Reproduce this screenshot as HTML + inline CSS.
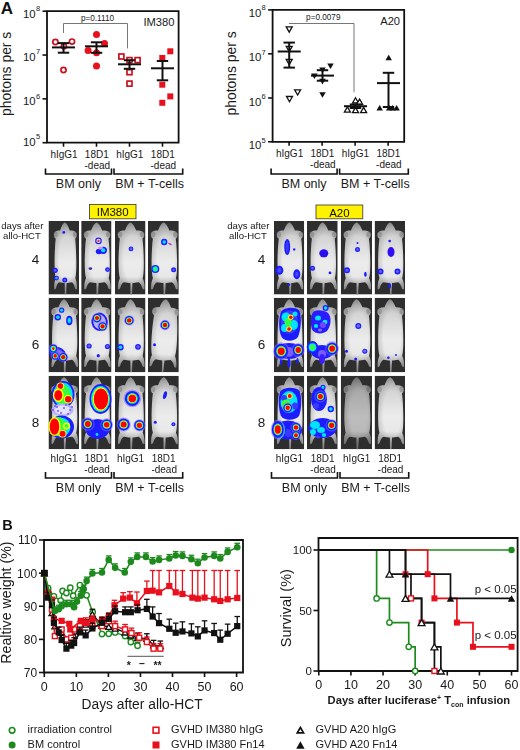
<!DOCTYPE html>
<html><head><meta charset="utf-8"><style>
html,body{margin:0;padding:0;background:#fff;overflow:hidden;width:520px;height:750px;}
svg{display:block;font-family:"Liberation Sans", sans-serif;}
</style></head><body>
<svg width="520" height="750" viewBox="0 0 520 750">
<text x="0.8" y="13.6" font-size="17" text-anchor="start" font-weight="bold" fill="#111" >A</text>
<path d="M47,142.7 L47,11.2 L178.6,11.2 L178.6,142.7 Z" fill="none" stroke="#111" stroke-width="1.8"/>
<line x1="42.5" y1="11.2" x2="47" y2="11.2" stroke="#111" stroke-width="1.6"/>
<text x="35.7" y="17.8" font-size="11.4" text-anchor="end" fill="#1a1a1a">10</text>
<text x="36" y="11.3" font-size="7.5" fill="#1a1a1a">8</text>
<line x1="42.5" y1="55.03" x2="47" y2="55.03" stroke="#111" stroke-width="1.6"/>
<text x="35.7" y="60.599999999999994" font-size="11.4" text-anchor="end" fill="#1a1a1a">10</text>
<text x="36" y="54.099999999999994" font-size="7.5" fill="#1a1a1a">7</text>
<line x1="42.5" y1="98.87" x2="47" y2="98.87" stroke="#111" stroke-width="1.6"/>
<text x="35.7" y="105.2" font-size="11.4" text-anchor="end" fill="#1a1a1a">10</text>
<text x="36" y="98.7" font-size="7.5" fill="#1a1a1a">6</text>
<line x1="42.5" y1="142.7" x2="47" y2="142.7" stroke="#111" stroke-width="1.6"/>
<text x="35.7" y="145.5" font-size="11.4" text-anchor="end" fill="#1a1a1a">10</text>
<text x="36" y="139.0" font-size="7.5" fill="#1a1a1a">5</text>
<line x1="63.5" y1="142.7" x2="63.5" y2="146.7" stroke="#111" stroke-width="1.6"/>
<line x1="96.5" y1="142.7" x2="96.5" y2="146.7" stroke="#111" stroke-width="1.6"/>
<line x1="129.5" y1="142.7" x2="129.5" y2="146.7" stroke="#111" stroke-width="1.6"/>
<line x1="162.5" y1="142.7" x2="162.5" y2="146.7" stroke="#111" stroke-width="1.6"/>
<text x="64" y="158.3" font-size="10" text-anchor="middle" font-weight="normal" fill="#1a1a1a" >hIgG1</text>
<text x="96.8" y="158.3" font-size="10" text-anchor="middle" font-weight="normal" fill="#1a1a1a" >18D1</text>
<text x="97.3" y="169.3" font-size="10" text-anchor="middle" font-weight="normal" fill="#1a1a1a" >-dead</text>
<text x="129.8" y="158.3" font-size="10" text-anchor="middle" font-weight="normal" fill="#1a1a1a" >hIgG1</text>
<text x="162.8" y="158.3" font-size="10" text-anchor="middle" font-weight="normal" fill="#1a1a1a" >18D1</text>
<text x="163.3" y="169.3" font-size="10" text-anchor="middle" font-weight="normal" fill="#1a1a1a" >-dead</text>
<polyline points="45.50,168.50 45.50,174.00 111.50,174.00 111.50,168.50" fill="none" stroke="#111" stroke-width="1.6"/>
<polyline points="114.00,168.50 114.00,174.00 182.70,174.00 182.70,168.50" fill="none" stroke="#111" stroke-width="1.6"/>
<text x="78.4" y="187.6" font-size="12.5" text-anchor="middle" font-weight="normal" fill="#1a1a1a" >BM only</text>
<text x="149.6" y="188" font-size="12.5" text-anchor="middle" font-weight="normal" fill="#1a1a1a" >BM + T-cells</text>
<text transform="translate(11.0,73.8) rotate(-90)" font-size="13.9" text-anchor="middle" fill="#1a1a1a">photons per s</text>
<text x="174.5" y="25.5" font-size="11.2" text-anchor="end" font-weight="normal" fill="#1a1a1a" >IM380</text>
<g fill="none" stroke="#777" stroke-width="1"><polyline points="63.5,33 63.5,23.5 127.5,23.5 127.5,48.4"/></g><text x="97.5" y="20.8" font-size="8.2" text-anchor="middle" fill="#1a1a1a">p=0.1110</text>
<circle cx="55.4" cy="42" r="2.6" fill="white" stroke="#c8121f" stroke-width="1.7"/>
<circle cx="72" cy="41.6" r="2.6" fill="white" stroke="#c8121f" stroke-width="1.7"/>
<circle cx="63.9" cy="46.3" r="2.6" fill="white" stroke="#c8121f" stroke-width="1.7"/>
<circle cx="63.5" cy="70" r="2.6" fill="white" stroke="#c8121f" stroke-width="1.7"/>
<g stroke="#111" stroke-width="2"><line x1="52.0" y1="47.4" x2="75.0" y2="47.4"/><line x1="63.5" y1="43.1" x2="63.5" y2="52.7"/><line x1="57.8" y1="43.1" x2="69.2" y2="43.1"/><line x1="57.8" y1="52.7" x2="69.2" y2="52.7"/></g>
<circle cx="96.5" cy="34.6" r="3.5" fill="#e8101c"/>
<circle cx="104.5" cy="43.6" r="3.5" fill="#e8101c"/>
<circle cx="88.1" cy="50.4" r="3.5" fill="#e8101c"/>
<circle cx="96.5" cy="52.8" r="3.5" fill="#e8101c"/>
<circle cx="96.5" cy="65.9" r="3.5" fill="#e8101c"/>
<g stroke="#111" stroke-width="2"><line x1="85.0" y1="46.3" x2="108.0" y2="46.3"/><line x1="96.5" y1="42.3" x2="96.5" y2="52.8"/><line x1="90.8" y1="42.3" x2="102.2" y2="42.3"/><line x1="90.8" y1="52.8" x2="102.2" y2="52.8"/></g>
<rect x="118.9" y="54.0" width="5" height="5" fill="white" stroke="#c8121f" stroke-width="1.7"/>
<rect x="127.0" y="57.6" width="5" height="5" fill="white" stroke="#c8121f" stroke-width="1.7"/>
<rect x="135.1" y="57.6" width="5" height="5" fill="white" stroke="#c8121f" stroke-width="1.7"/>
<rect x="127.0" y="69.7" width="5" height="5" fill="white" stroke="#c8121f" stroke-width="1.7"/>
<rect x="127.0" y="81.1" width="5" height="5" fill="white" stroke="#c8121f" stroke-width="1.7"/>
<g stroke="#111" stroke-width="2"><line x1="118.0" y1="64.3" x2="141.0" y2="64.3"/><line x1="129.5" y1="60.2" x2="129.5" y2="68.8"/><line x1="123.8" y1="60.2" x2="135.2" y2="60.2"/><line x1="123.8" y1="68.8" x2="135.2" y2="68.8"/></g>
<rect x="167.3" y="48.3" width="6" height="6" fill="#e8101c"/>
<rect x="159.3" y="55" width="6" height="6" fill="#e8101c"/>
<rect x="159.3" y="81.7" width="6" height="6" fill="#e8101c"/>
<rect x="167.3" y="93.4" width="6" height="6" fill="#e8101c"/>
<rect x="159.3" y="99.8" width="6" height="6" fill="#e8101c"/>
<g stroke="#111" stroke-width="2"><line x1="151.0" y1="68.3" x2="174.0" y2="68.3"/><line x1="162.5" y1="61" x2="162.5" y2="80.3"/><line x1="156.8" y1="61" x2="168.2" y2="61"/><line x1="156.8" y1="80.3" x2="168.2" y2="80.3"/></g>
<path d="M272.6,141.8 L272.6,9.9 L404.2,9.9 L404.2,141.8 Z" fill="none" stroke="#111" stroke-width="1.8"/>
<line x1="268.1" y1="9.9" x2="272.6" y2="9.9" stroke="#111" stroke-width="1.6"/>
<text x="261.3" y="16.6" font-size="11.4" text-anchor="end" fill="#1a1a1a">10</text>
<text x="261.6" y="10.100000000000001" font-size="7.5" fill="#1a1a1a">8</text>
<line x1="268.1" y1="53.8" x2="272.6" y2="53.8" stroke="#111" stroke-width="1.6"/>
<text x="261.3" y="61.0" font-size="11.4" text-anchor="end" fill="#1a1a1a">10</text>
<text x="261.6" y="54.5" font-size="7.5" fill="#1a1a1a">7</text>
<line x1="268.1" y1="98" x2="272.6" y2="98" stroke="#111" stroke-width="1.6"/>
<text x="261.3" y="105.6" font-size="11.4" text-anchor="end" fill="#1a1a1a">10</text>
<text x="261.6" y="99.1" font-size="7.5" fill="#1a1a1a">6</text>
<line x1="268.1" y1="141.8" x2="272.6" y2="141.8" stroke="#111" stroke-width="1.6"/>
<text x="261.3" y="149.0" font-size="11.4" text-anchor="end" fill="#1a1a1a">10</text>
<text x="261.6" y="142.5" font-size="7.5" fill="#1a1a1a">5</text>
<line x1="289.1" y1="141.8" x2="289.1" y2="145.8" stroke="#111" stroke-width="1.6"/>
<line x1="322.1" y1="141.8" x2="322.1" y2="145.8" stroke="#111" stroke-width="1.6"/>
<line x1="355.1" y1="141.8" x2="355.1" y2="145.8" stroke="#111" stroke-width="1.6"/>
<line x1="388.1" y1="141.8" x2="388.1" y2="145.8" stroke="#111" stroke-width="1.6"/>
<text x="289.6" y="156.7" font-size="10" text-anchor="middle" font-weight="normal" fill="#1a1a1a" >hIgG1</text>
<text x="322.4" y="156.7" font-size="10" text-anchor="middle" font-weight="normal" fill="#1a1a1a" >18D1</text>
<text x="322.9" y="167.7" font-size="10" text-anchor="middle" font-weight="normal" fill="#1a1a1a" >-dead</text>
<text x="355.4" y="156.7" font-size="10" text-anchor="middle" font-weight="normal" fill="#1a1a1a" >hIgG1</text>
<text x="388.4" y="156.7" font-size="10" text-anchor="middle" font-weight="normal" fill="#1a1a1a" >18D1</text>
<text x="388.9" y="167.7" font-size="10" text-anchor="middle" font-weight="normal" fill="#1a1a1a" >-dead</text>
<polyline points="271.10,168.50 271.10,174.00 337.10,174.00 337.10,168.50" fill="none" stroke="#111" stroke-width="1.6"/>
<polyline points="339.60,168.50 339.60,174.00 408.30,174.00 408.30,168.50" fill="none" stroke="#111" stroke-width="1.6"/>
<text x="304.0" y="187.6" font-size="12.5" text-anchor="middle" font-weight="normal" fill="#1a1a1a" >BM only</text>
<text x="375.2" y="188" font-size="12.5" text-anchor="middle" font-weight="normal" fill="#1a1a1a" >BM + T-cells</text>
<text transform="translate(236.2,73.4) rotate(-90)" font-size="13.9" text-anchor="middle" fill="#1a1a1a">photons per s</text>
<text x="400.1" y="24.7" font-size="11.2" text-anchor="end" font-weight="normal" fill="#1a1a1a" >A20</text>
<g fill="none" stroke="#777" stroke-width="1"><polyline points="289,23.5 354,23.5 354,92.3"/></g><text x="323.3" y="20.2" font-size="8.2" text-anchor="middle" fill="#1a1a1a">p=0.0079</text>
<polygon points="286.20,26.90 292.20,26.90 289.20,32.10" fill="white" stroke="#111" stroke-width="1.3" stroke-linejoin="miter"/>
<polygon points="286.20,46.40 292.20,46.40 289.20,51.60" fill="white" stroke="#111" stroke-width="1.3" stroke-linejoin="miter"/>
<polygon points="286.20,59.40 292.20,59.40 289.20,64.60" fill="white" stroke="#111" stroke-width="1.3" stroke-linejoin="miter"/>
<polygon points="294.60,89.80 300.60,89.80 297.60,95.00" fill="white" stroke="#111" stroke-width="1.3" stroke-linejoin="miter"/>
<polygon points="286.50,96.50 292.50,96.50 289.50,101.70" fill="white" stroke="#111" stroke-width="1.3" stroke-linejoin="miter"/>
<g stroke="#111" stroke-width="2"><line x1="277.7" y1="51.5" x2="300.7" y2="51.5"/><line x1="289.2" y1="42.6" x2="289.2" y2="67.6"/><line x1="283.5" y1="42.6" x2="294.9" y2="42.6"/><line x1="283.5" y1="67.6" x2="294.9" y2="67.6"/></g>
<polygon points="327.26,63.39 333.74,63.39 330.50,69.01" fill="#111"/>
<polygon points="319.26,67.39 325.74,67.39 322.50,73.01" fill="#111"/>
<polygon points="311.16,73.39 317.64,73.39 314.40,79.01" fill="#111"/>
<polygon points="319.26,78.79 325.74,78.79 322.50,84.41" fill="#111"/>
<polygon points="319.26,92.19 325.74,92.19 322.50,97.81" fill="#111"/>
<g stroke="#111" stroke-width="2"><line x1="311.0" y1="75.6" x2="334.0" y2="75.6"/><line x1="322.5" y1="70.2" x2="322.5" y2="80.7"/><line x1="316.8" y1="70.2" x2="328.2" y2="70.2"/><line x1="316.8" y1="80.7" x2="328.2" y2="80.7"/></g>
<polygon points="352.50,103.00 358.50,103.00 355.50,97.80" fill="white" stroke="#111" stroke-width="1.3" stroke-linejoin="miter"/>
<polygon points="356.60,104.30 362.60,104.30 359.60,99.10" fill="white" stroke="#111" stroke-width="1.3" stroke-linejoin="miter"/>
<polygon points="344.40,112.10 350.40,112.10 347.40,106.90" fill="white" stroke="#111" stroke-width="1.3" stroke-linejoin="miter"/>
<polygon points="352.50,112.60 358.50,112.60 355.50,107.40" fill="white" stroke="#111" stroke-width="1.3" stroke-linejoin="miter"/>
<polygon points="360.60,112.60 366.60,112.60 363.60,107.40" fill="white" stroke="#111" stroke-width="1.3" stroke-linejoin="miter"/>
<g stroke="#111" stroke-width="2"><line x1="344.0" y1="106.2" x2="367.0" y2="106.2"/><line x1="355.5" y1="104.5" x2="355.5" y2="108"/><line x1="349.8" y1="104.5" x2="361.2" y2="104.5"/><line x1="349.8" y1="108" x2="361.2" y2="108"/></g>
<polygon points="385.46,60.31 391.94,60.31 388.70,54.69" fill="#111"/>
<polygon points="376.46,110.61 382.94,110.61 379.70,104.99" fill="#111"/>
<polygon points="385.96,110.61 392.44,110.61 389.20,104.99" fill="#111"/>
<polygon points="389.26,110.61 395.74,110.61 392.50,104.99" fill="#111"/>
<polygon points="393.36,110.61 399.84,110.61 396.60,104.99" fill="#111"/>
<g stroke="#111" stroke-width="2"><line x1="377.0" y1="83.1" x2="400.0" y2="83.1"/><line x1="388.5" y1="72.8" x2="388.5" y2="107"/><line x1="382.8" y1="72.8" x2="394.2" y2="72.8"/><line x1="382.8" y1="107" x2="394.2" y2="107"/></g>
<defs><filter id="soft" x="-5%" y="-5%" width="110%" height="110%"><feGaussianBlur stdDeviation="0.55"/></filter><linearGradient id="mg" x1="0" y1="0" x2="0" y2="1"><stop offset="0" stop-color="#9a9a9a"/><stop offset="0.08" stop-color="#b8b8b8"/><stop offset="0.2" stop-color="#d4d4d4"/><stop offset="0.55" stop-color="#ececec"/><stop offset="0.75" stop-color="#e8e8e8"/><stop offset="0.82" stop-color="#c8c8c8"/><stop offset="0.9" stop-color="#a0a0a0"/><stop offset="1" stop-color="#909090"/></linearGradient><radialGradient id="edge" cx="55%" cy="50%" r="50%"><stop offset="0.65" stop-color="#000" stop-opacity="0"/><stop offset="1" stop-color="#000" stop-opacity="0.12"/></radialGradient><g id="mb"><path d="M16,1.5 C17.6,1.8 19.8,4.8 21.6,9.5 C25,9.5 28.5,10 29.3,13 C29.8,15.5 28.8,17 27.8,17.5 C28.6,24 29,32 29.1,40 C29.2,48 29,54 28,57.5 C29.3,60 30,64 29.8,68.5 C28.8,69 27.8,68.5 27.2,66 C26.5,64 25.5,62.5 24,61.5 C21.5,62 19.5,62.3 18,62.3 L17.5,74 L16,74 L15.9,62.3 C14,62.3 12,62 9.5,61.5 C8,62.5 7,64 6.3,66 C5.7,68.5 4.7,69 3.8,68.5 C3.7,64 4.3,60 5.6,57.5 C4.6,54 4.3,48 4.3,40 C4.4,32 4.8,24 5.6,17.5 C4.4,17 3.4,15.5 3.8,13 C4.6,10 8,9.5 10.6,9.5 C12.3,4.8 14.4,1.8 16,1.5 Z" fill="url(#mg)"/><path d="M16,1.5 C17.6,1.8 19.8,4.8 21.6,9.5 C25,9.5 28.5,10 29.3,13 C29.8,15.5 28.8,17 27.8,17.5 C28.6,24 29,32 29.1,40 C29.2,48 29,54 28,57.5 C29.3,60 30,64 29.8,68.5 C28.8,69 27.8,68.5 27.2,66 C26.5,64 25.5,62.5 24,61.5 C21.5,62 19.5,62.3 18,62.3 L17.5,74 L16,74 L15.9,62.3 C14,62.3 12,62 9.5,61.5 C8,62.5 7,64 6.3,66 C5.7,68.5 4.7,69 3.8,68.5 C3.7,64 4.3,60 5.6,57.5 C4.6,54 4.3,48 4.3,40 C4.4,32 4.8,24 5.6,17.5 C4.4,17 3.4,15.5 3.8,13 C4.6,10 8,9.5 10.6,9.5 C12.3,4.8 14.4,1.8 16,1.5 Z" fill="url(#edge)"/><ellipse cx="5.6" cy="13.6" rx="2.3" ry="3" fill="#7a7a7a" fill-opacity="0.55"/><ellipse cx="27.6" cy="13.6" rx="2.3" ry="3" fill="#7a7a7a" fill-opacity="0.55"/></g></defs>
<g filter="url(#soft)">
<svg x="48.5" y="221" width="30.5" height="73.6" viewBox="0 0 30 74" preserveAspectRatio="none"><rect width="30" height="74" fill="#2f2f2f"/><use href="#mb" transform="translate(-0.8,0) translate(16,0) scale(0.86,1) translate(-15,0)"/></svg>
<svg x="81.2" y="221" width="30.3" height="73.6" viewBox="0 0 30 74" preserveAspectRatio="none"><rect width="30" height="74" fill="#2f2f2f"/><use href="#mb" transform="translate(-0.8,0) "/></svg>
<svg x="115" y="221" width="30.5" height="73.6" viewBox="0 0 30 74" preserveAspectRatio="none"><rect width="30" height="74" fill="#2f2f2f"/><use href="#mb" transform="translate(-0.8,0) "/></svg>
<svg x="148" y="221" width="30.8" height="73.6" viewBox="0 0 30 74" preserveAspectRatio="none"><rect width="30" height="74" fill="#2f2f2f"/><use href="#mb" transform="translate(-0.8,0) "/></svg>
<svg x="48.5" y="297.8" width="30.5" height="74.5" viewBox="0 0 30 74" preserveAspectRatio="none"><rect width="30" height="74" fill="#2f2f2f"/><use href="#mb" transform="translate(-0.8,0) "/></svg>
<svg x="81.2" y="297.8" width="30.3" height="74.5" viewBox="0 0 30 74" preserveAspectRatio="none"><rect width="30" height="74" fill="#2f2f2f"/><use href="#mb" transform="translate(-0.8,0) "/></svg>
<svg x="115" y="297.8" width="30.5" height="74.5" viewBox="0 0 30 74" preserveAspectRatio="none"><rect width="30" height="74" fill="#2f2f2f"/><use href="#mb" transform="translate(-0.8,0) "/></svg>
<svg x="148" y="297.8" width="30.8" height="74.5" viewBox="0 0 30 74" preserveAspectRatio="none"><rect width="30" height="74" fill="#2f2f2f"/><use href="#mb" transform="translate(-0.8,0) rotate(3 16 40)"/></svg>
<svg x="48.5" y="375.8" width="30.5" height="73.4" viewBox="0 0 30 74" preserveAspectRatio="none"><rect width="30" height="74" fill="#2f2f2f"/><use href="#mb" transform="translate(-0.8,0) "/></svg>
<svg x="81.2" y="375.8" width="30.3" height="73.4" viewBox="0 0 30 74" preserveAspectRatio="none"><rect width="30" height="74" fill="#2f2f2f"/><use href="#mb" transform="translate(-0.8,0) "/></svg>
<svg x="115" y="375.8" width="30.5" height="73.4" viewBox="0 0 30 74" preserveAspectRatio="none"><rect width="30" height="74" fill="#2f2f2f"/><use href="#mb" transform="translate(-0.8,0) "/></svg>
<svg x="148" y="375.8" width="30.8" height="73.4" viewBox="0 0 30 74" preserveAspectRatio="none"><rect width="30" height="74" fill="#2f2f2f"/><use href="#mb" transform="translate(-0.8,0) "/><path d="M16,1.5 C17.6,1.8 19.8,4.8 21.6,9.5 C25,9.5 28.5,10 29.3,13 C29.8,15.5 28.8,17 27.8,17.5 C28.6,24 29,32 29.1,40 C29.2,48 29,54 28,57.5 C29.3,60 30,64 29.8,68.5 C28.8,69 27.8,68.5 27.2,66 C26.5,64 25.5,62.5 24,61.5 C21.5,62 19.5,62.3 18,62.3 L17.5,74 L16,74 L15.9,62.3 C14,62.3 12,62 9.5,61.5 C8,62.5 7,64 6.3,66 C5.7,68.5 4.7,69 3.8,68.5 C3.7,64 4.3,60 5.6,57.5 C4.6,54 4.3,48 4.3,40 C4.4,32 4.8,24 5.6,17.5 C4.4,17 3.4,15.5 3.8,13 C4.6,10 8,9.5 10.6,9.5 C12.3,4.8 14.4,1.8 16,1.5 Z" fill="#fff" fill-opacity="0.04" transform="translate(-0.8,0) "/></svg>
<svg x="274" y="221" width="30.2" height="73.6" viewBox="0 0 30 74" preserveAspectRatio="none"><rect width="30" height="74" fill="#2f2f2f"/><use href="#mb" transform="translate(-0.8,0) "/></svg>
<svg x="307" y="221" width="30.7" height="73.6" viewBox="0 0 30 74" preserveAspectRatio="none"><rect width="30" height="74" fill="#2f2f2f"/><use href="#mb" transform="translate(-0.8,0) "/></svg>
<svg x="340.8" y="221" width="31.2" height="73.6" viewBox="0 0 30 74" preserveAspectRatio="none"><rect width="30" height="74" fill="#2f2f2f"/><use href="#mb" transform="translate(-0.8,0) "/></svg>
<svg x="374.6" y="221" width="30.4" height="73.6" viewBox="0 0 30 74" preserveAspectRatio="none"><rect width="30" height="74" fill="#2f2f2f"/><use href="#mb" transform="translate(-0.8,0) "/></svg>
<svg x="274" y="297.8" width="30.2" height="74.5" viewBox="0 0 30 74" preserveAspectRatio="none"><rect width="30" height="74" fill="#2f2f2f"/><use href="#mb" transform="translate(-0.8,0) "/></svg>
<svg x="307" y="297.8" width="30.7" height="74.5" viewBox="0 0 30 74" preserveAspectRatio="none"><rect width="30" height="74" fill="#2f2f2f"/><use href="#mb" transform="translate(-0.8,0) "/></svg>
<svg x="340.8" y="297.8" width="31.2" height="74.5" viewBox="0 0 30 74" preserveAspectRatio="none"><rect width="30" height="74" fill="#2f2f2f"/><use href="#mb" transform="translate(-0.8,0) "/></svg>
<svg x="374.6" y="297.8" width="30.4" height="74.5" viewBox="0 0 30 74" preserveAspectRatio="none"><rect width="30" height="74" fill="#2f2f2f"/><use href="#mb" transform="translate(-0.8,0) "/></svg>
<svg x="274" y="375.8" width="30.2" height="73.4" viewBox="0 0 30 74" preserveAspectRatio="none"><rect width="30" height="74" fill="#2f2f2f"/><use href="#mb" transform="translate(-0.8,0) "/></svg>
<svg x="307" y="375.8" width="30.7" height="73.4" viewBox="0 0 30 74" preserveAspectRatio="none"><rect width="30" height="74" fill="#2f2f2f"/><use href="#mb" transform="translate(-0.8,0) "/></svg>
<svg x="340.8" y="375.8" width="31.2" height="73.4" viewBox="0 0 30 74" preserveAspectRatio="none"><rect width="30" height="74" fill="#2f2f2f"/><use href="#mb" transform="translate(-0.8,0) "/><path d="M16,1.5 C17.6,1.8 19.8,4.8 21.6,9.5 C25,9.5 28.5,10 29.3,13 C29.8,15.5 28.8,17 27.8,17.5 C28.6,24 29,32 29.1,40 C29.2,48 29,54 28,57.5 C29.3,60 30,64 29.8,68.5 C28.8,69 27.8,68.5 27.2,66 C26.5,64 25.5,62.5 24,61.5 C21.5,62 19.5,62.3 18,62.3 L17.5,74 L16,74 L15.9,62.3 C14,62.3 12,62 9.5,61.5 C8,62.5 7,64 6.3,66 C5.7,68.5 4.7,69 3.8,68.5 C3.7,64 4.3,60 5.6,57.5 C4.6,54 4.3,48 4.3,40 C4.4,32 4.8,24 5.6,17.5 C4.4,17 3.4,15.5 3.8,13 C4.6,10 8,9.5 10.6,9.5 C12.3,4.8 14.4,1.8 16,1.5 Z" fill="#000" fill-opacity="0.20" transform="translate(-0.8,0) "/></svg>
<svg x="374.6" y="375.8" width="30.4" height="73.4" viewBox="0 0 30 74" preserveAspectRatio="none"><rect width="30" height="74" fill="#2f2f2f"/><use href="#mb" transform="translate(-0.8,0) "/><path d="M16,1.5 C17.6,1.8 19.8,4.8 21.6,9.5 C25,9.5 28.5,10 29.3,13 C29.8,15.5 28.8,17 27.8,17.5 C28.6,24 29,32 29.1,40 C29.2,48 29,54 28,57.5 C29.3,60 30,64 29.8,68.5 C28.8,69 27.8,68.5 27.2,66 C26.5,64 25.5,62.5 24,61.5 C21.5,62 19.5,62.3 18,62.3 L17.5,74 L16,74 L15.9,62.3 C14,62.3 12,62 9.5,61.5 C8,62.5 7,64 6.3,66 C5.7,68.5 4.7,69 3.8,68.5 C3.7,64 4.3,60 5.6,57.5 C4.6,54 4.3,48 4.3,40 C4.4,32 4.8,24 5.6,17.5 C4.4,17 3.4,15.5 3.8,13 C4.6,10 8,9.5 10.6,9.5 C12.3,4.8 14.4,1.8 16,1.5 Z" fill="#fff" fill-opacity="0.04" transform="translate(-0.8,0) "/></svg>
<ellipse cx="63.8" cy="232.4" rx="1.4" ry="1.4" fill="#1f1fff"/>
<ellipse cx="55.2" cy="270.3" rx="2.6" ry="2.6" fill="#1f1fff"/>
<ellipse cx="55.2" cy="270.3" rx="1.17" ry="1.17" fill="#6a6aff"/>
<circle cx="56.5" cy="278.1" r="2.4" fill="#1f1fff"/>
<circle cx="56.5" cy="278.1" r="1.32" fill="#3fa0ff"/>
<ellipse cx="64.8" cy="280" rx="2.5" ry="2.5" fill="#1f1fff"/>
<ellipse cx="64.8" cy="280" rx="1.12" ry="1.12" fill="#6a6aff"/>
<ellipse cx="99" cy="251.5" rx="3.2" ry="2.8" fill="#1f1fff"/>
<ellipse cx="103.2" cy="250.3" rx="3.80" ry="3.60" fill="#1f1fff"/>
<ellipse cx="103.2" cy="250.3" rx="2.09" ry="1.98" fill="#00e4ff"/>
<ellipse cx="100.5" cy="248" rx="2.5" ry="1.5" fill="#d090ff"/>
<circle cx="98.5" cy="240.9" r="3.3" fill="#1f1fff"/><circle cx="98.5" cy="240.9" r="2.1" fill="#e8e8ff"/><circle cx="98.5" cy="240.9" r="1.2" fill="#e04010"/>
<ellipse cx="107.5" cy="269.6" rx="2.4" ry="2.4" fill="#1f1fff"/>
<ellipse cx="107.5" cy="269.6" rx="1.08" ry="1.08" fill="#6a6aff"/>
<ellipse cx="90.4" cy="268.6" rx="1.8" ry="1.4" fill="#3a2ab0"/>
<circle cx="131" cy="248.9" r="2.4" fill="#1f1fff"/>
<circle cx="131" cy="248.9" r="1.32" fill="#6060ff"/>
<ellipse cx="164.2" cy="242" rx="3.20" ry="3.20" fill="#1f1fff"/>
<ellipse cx="164.2" cy="242" rx="1.76" ry="1.76" fill="#00e4ff"/>
<ellipse cx="170" cy="244" rx="2.2" ry="0.8" fill="#c040c0" transform="rotate(30 170 244)"/>
<ellipse cx="155.3" cy="269" rx="4.00" ry="4.00" fill="#1f1fff"/>
<ellipse cx="155.3" cy="269" rx="2.64" ry="2.64" fill="#00e4ff"/>
<ellipse cx="155.3" cy="269" rx="1.84" ry="1.84" fill="#39ff3a"/>
<ellipse cx="173.6" cy="269.8" rx="2.5" ry="2.5" fill="#1f1fff"/>
<ellipse cx="173.6" cy="269.8" rx="1.12" ry="1.12" fill="#6a6aff"/>
<ellipse cx="61.7" cy="310.2" rx="2.60" ry="2.60" fill="#1f1fff"/>
<ellipse cx="61.7" cy="310.2" rx="1.43" ry="1.43" fill="#00e4ff"/>
<ellipse cx="57.8" cy="317.2" rx="3.20" ry="3.20" fill="#1f1fff"/>
<ellipse cx="57.8" cy="317.2" rx="1.76" ry="1.76" fill="#00e4ff"/>
<ellipse cx="69.3" cy="320.5" rx="3.20" ry="4.80" fill="#1f1fff"/>
<ellipse cx="69.3" cy="320.5" rx="1.76" ry="2.64" fill="#00e4ff"/>
<ellipse cx="57.5" cy="353.5" rx="8.5" ry="6.5" fill="#1f1fff" transform="rotate(20 57.5 353.5)"/>
<ellipse cx="57.5" cy="353.5" rx="6.5" ry="4.5" fill="#7a6cff" transform="rotate(20 57.5 353.5)"/>
<ellipse cx="53.3" cy="348.6" rx="4.72" ry="4.72" fill="#8a6cff" fill-opacity="0.55"/>
<ellipse cx="53.3" cy="348.6" rx="4.00" ry="4.00" fill="#1f1fff"/>
<ellipse cx="53.3" cy="348.6" rx="2.80" ry="2.80" fill="#00e4ff"/>
<ellipse cx="53.3" cy="348.6" rx="2.40" ry="2.40" fill="#39ff3a"/>
<ellipse cx="53.3" cy="348.6" rx="1.84" ry="1.84" fill="#ffff00"/>
<circle cx="53.3" cy="348.6" r="1.3" fill="#ff0000"/>
<ellipse cx="55.2" cy="355.9" rx="4.25" ry="4.25" fill="#8a6cff" fill-opacity="0.55"/>
<ellipse cx="55.2" cy="355.9" rx="3.60" ry="3.60" fill="#1f1fff"/>
<ellipse cx="55.2" cy="355.9" rx="2.59" ry="2.59" fill="#00e4ff"/>
<ellipse cx="55.2" cy="355.9" rx="2.30" ry="2.30" fill="#39ff3a"/>
<ellipse cx="55.2" cy="355.9" rx="2.05" ry="2.05" fill="#ffff00"/>
<ellipse cx="55.2" cy="355.9" rx="1.80" ry="1.80" fill="#ff0000"/>
<ellipse cx="63.2" cy="357.2" rx="4.96" ry="4.96" fill="#8a6cff" fill-opacity="0.55"/>
<ellipse cx="63.2" cy="357.2" rx="4.20" ry="4.20" fill="#1f1fff"/>
<ellipse cx="63.2" cy="357.2" rx="3.02" ry="3.02" fill="#00e4ff"/>
<ellipse cx="63.2" cy="357.2" rx="2.69" ry="2.69" fill="#39ff3a"/>
<ellipse cx="63.2" cy="357.2" rx="2.39" ry="2.39" fill="#ffff00"/>
<ellipse cx="63.2" cy="357.2" rx="2.10" ry="2.10" fill="#ff0000"/>
<ellipse cx="99.6" cy="321.8" rx="8.2" ry="9.2" fill="#1f1fff" transform="rotate(-10 99.6 321.8)"/>
<ellipse cx="99.6" cy="321.8" rx="6.3" ry="7.3" fill="#b8b0ff" transform="rotate(-10 99.6 321.8)"/>
<ellipse cx="97" cy="318" rx="4.96" ry="4.96" fill="#8a6cff" fill-opacity="0.55"/>
<ellipse cx="97" cy="318" rx="4.20" ry="4.20" fill="#1f1fff"/>
<ellipse cx="97" cy="318" rx="3.02" ry="3.02" fill="#00e4ff"/>
<ellipse cx="97" cy="318" rx="2.69" ry="2.69" fill="#39ff3a"/>
<ellipse cx="97" cy="318" rx="2.39" ry="2.39" fill="#ffff00"/>
<ellipse cx="97" cy="318" rx="2.10" ry="2.10" fill="#ff0000"/>
<ellipse cx="102.6" cy="326.4" rx="4.96" ry="4.96" fill="#8a6cff" fill-opacity="0.55"/>
<ellipse cx="102.6" cy="326.4" rx="4.20" ry="4.20" fill="#1f1fff"/>
<ellipse cx="102.6" cy="326.4" rx="3.02" ry="3.02" fill="#00e4ff"/>
<ellipse cx="102.6" cy="326.4" rx="2.69" ry="2.69" fill="#39ff3a"/>
<ellipse cx="102.6" cy="326.4" rx="2.39" ry="2.39" fill="#ffff00"/>
<ellipse cx="102.6" cy="326.4" rx="2.10" ry="2.10" fill="#ff0000"/>
<circle cx="89.1" cy="346" r="2.6" fill="#1f1fff"/>
<circle cx="89.1" cy="346" r="1.43" fill="#6060ff"/>
<circle cx="107.5" cy="346.5" r="2.6" fill="#1f1fff"/>
<circle cx="107.5" cy="346.5" r="1.43" fill="#6060ff"/>
<ellipse cx="98.3" cy="355.7" rx="1.6" ry="1.6" fill="#1f1fff"/>
<ellipse cx="129.2" cy="320.4" rx="5.19" ry="5.19" fill="#8a6cff" fill-opacity="0.55"/>
<ellipse cx="129.2" cy="320.4" rx="4.40" ry="4.40" fill="#1f1fff"/>
<ellipse cx="129.2" cy="320.4" rx="3.17" ry="3.17" fill="#00e4ff"/>
<ellipse cx="129.2" cy="320.4" rx="2.82" ry="2.82" fill="#39ff3a"/>
<ellipse cx="129.2" cy="320.4" rx="2.51" ry="2.51" fill="#ffff00"/>
<ellipse cx="129.2" cy="320.4" rx="2.20" ry="2.20" fill="#ff0000"/>
<ellipse cx="120.5" cy="347.3" rx="3.20" ry="3.20" fill="#1f1fff"/>
<ellipse cx="120.5" cy="347.3" rx="1.76" ry="1.76" fill="#00e4ff"/>
<circle cx="138" cy="346.8" r="2.9" fill="#1f1fff"/>
<circle cx="138" cy="346.8" r="1.59" fill="#6060ff"/>
<ellipse cx="165" cy="325" rx="5.19" ry="5.19" fill="#8a6cff" fill-opacity="0.55"/>
<ellipse cx="165" cy="325" rx="4.40" ry="4.40" fill="#1f1fff"/>
<ellipse cx="165" cy="325" rx="3.17" ry="3.17" fill="#00e4ff"/>
<ellipse cx="165" cy="325" rx="2.82" ry="2.82" fill="#39ff3a"/>
<ellipse cx="165" cy="325" rx="2.51" ry="2.51" fill="#ffff00"/>
<ellipse cx="165" cy="325" rx="2.20" ry="2.20" fill="#ff0000"/>
<ellipse cx="154.5" cy="344.7" rx="1.5" ry="1.5" fill="#1f1fff"/>
<ellipse cx="63" cy="394.5" rx="11.5" ry="13.5" fill="#1f1fff"/>
<ellipse cx="63" cy="394.5" rx="9.8" ry="11.8" fill="#00e4ff"/>
<ellipse cx="62.5" cy="394.5" rx="8" ry="10" fill="#39ff3a"/>
<ellipse cx="60.4" cy="386.1" rx="3.78" ry="3.6399999999999997" fill="#ffff00"/>
<ellipse cx="60.4" cy="386.1" rx="2.8" ry="2.8" fill="#ff0000"/>
<ellipse cx="58.3" cy="395.2" rx="5.4" ry="6.760000000000001" fill="#ffff00"/>
<ellipse cx="58.3" cy="395.2" rx="4" ry="5.2" fill="#ff0000"/>
<ellipse cx="68.2" cy="399.2" rx="4.32" ry="4.16" fill="#ffff00"/>
<ellipse cx="68.2" cy="399.2" rx="3.2" ry="3.2" fill="#ff0000"/>
<ellipse cx="62.5" cy="410" rx="11" ry="6.5" fill="#b8b0ff"/>
<ellipse cx="62.5" cy="410" rx="8" ry="4.5" fill="#e4e0ff"/>
<circle cx="55" cy="406" r="0.9" fill="#6a4cff"/>
<circle cx="58" cy="411" r="0.9" fill="#6a4cff"/>
<circle cx="66" cy="405" r="0.9" fill="#6a4cff"/>
<circle cx="70" cy="410" r="0.9" fill="#6a4cff"/>
<circle cx="61" cy="413" r="0.9" fill="#6a4cff"/>
<circle cx="53" cy="410" r="0.9" fill="#6a4cff"/>
<circle cx="68" cy="414" r="0.9" fill="#6a4cff"/>
<circle cx="64" cy="408" r="0.9" fill="#6a4cff"/>
<circle cx="57" cy="407" r="0.9" fill="#6a4cff"/>
<circle cx="72" cy="407" r="0.9" fill="#6a4cff"/>
<ellipse cx="61.5" cy="427" rx="12.5" ry="11.5" fill="#1f1fff"/>
<ellipse cx="60.5" cy="427" rx="10" ry="9.5" fill="#00e4ff"/>
<ellipse cx="58" cy="426.5" rx="8" ry="9.5" fill="#39ff3a"/>
<ellipse cx="54.5" cy="426.6" rx="6" ry="9.5" fill="#ffff00"/>
<ellipse cx="54.5" cy="426.6" rx="4.8" ry="8.2" fill="#ff0000"/>
<ellipse cx="66.5" cy="426" rx="3.5" ry="3.5" fill="#ffff00"/>
<ellipse cx="66.5" cy="426" rx="2" ry="2" fill="#39ff3a"/>
<ellipse cx="62.5" cy="433.7" rx="4" ry="3.8" fill="#ffff00"/>
<ellipse cx="62.5" cy="433.7" rx="3" ry="3" fill="#ff0000"/>
<ellipse cx="100.5" cy="399" rx="11" ry="15" fill="#1f1fff"/>
<ellipse cx="100.5" cy="399" rx="9.5" ry="13" fill="#00e4ff"/>
<ellipse cx="100.5" cy="399" rx="8.5" ry="12" fill="#39ff3a"/>
<ellipse cx="100.8" cy="399" rx="8" ry="11.5" fill="#ffff00"/>
<ellipse cx="101" cy="399" rx="7.2" ry="10.5" fill="#ff0000"/>
<ellipse cx="97.5" cy="429" rx="12" ry="10" fill="#1f1fff"/>
<ellipse cx="87.8" cy="424" rx="6.84" ry="6.84" fill="#8a6cff" fill-opacity="0.55"/>
<ellipse cx="87.8" cy="424" rx="5.80" ry="5.80" fill="#1f1fff"/>
<ellipse cx="87.8" cy="424" rx="4.18" ry="4.18" fill="#00e4ff"/>
<ellipse cx="87.8" cy="424" rx="3.71" ry="3.71" fill="#39ff3a"/>
<ellipse cx="87.8" cy="424" rx="3.31" ry="3.31" fill="#ffff00"/>
<ellipse cx="87.8" cy="424" rx="2.90" ry="2.90" fill="#ff0000"/>
<ellipse cx="106.7" cy="424.8" rx="6.49" ry="6.49" fill="#8a6cff" fill-opacity="0.55"/>
<ellipse cx="106.7" cy="424.8" rx="5.50" ry="5.50" fill="#1f1fff"/>
<ellipse cx="106.7" cy="424.8" rx="3.96" ry="3.96" fill="#00e4ff"/>
<ellipse cx="106.7" cy="424.8" rx="3.52" ry="3.52" fill="#39ff3a"/>
<ellipse cx="106.7" cy="424.8" rx="3.13" ry="3.13" fill="#ffff00"/>
<ellipse cx="106.7" cy="424.8" rx="2.75" ry="2.75" fill="#ff0000"/>
<ellipse cx="97" cy="434.5" rx="2.50" ry="2.50" fill="#1f1fff"/>
<ellipse cx="97" cy="434.5" rx="1.38" ry="1.38" fill="#00e4ff"/>
<ellipse cx="132.3" cy="398.4" rx="8.85" ry="8.85" fill="#8a6cff" fill-opacity="0.55"/>
<ellipse cx="132.3" cy="398.4" rx="7.50" ry="7.50" fill="#1f1fff"/>
<ellipse cx="132.3" cy="398.4" rx="5.40" ry="5.40" fill="#00e4ff"/>
<ellipse cx="132.3" cy="398.4" rx="4.80" ry="4.80" fill="#39ff3a"/>
<ellipse cx="132.3" cy="398.4" rx="4.27" ry="4.27" fill="#ffff00"/>
<ellipse cx="132.3" cy="398.4" rx="3.75" ry="3.75" fill="#ff0000"/>
<ellipse cx="123.7" cy="424.5" rx="7.08" ry="7.08" fill="#8a6cff" fill-opacity="0.55"/>
<ellipse cx="123.7" cy="424.5" rx="6.00" ry="6.00" fill="#1f1fff"/>
<ellipse cx="123.7" cy="424.5" rx="4.32" ry="4.32" fill="#00e4ff"/>
<ellipse cx="123.7" cy="424.5" rx="3.84" ry="3.84" fill="#39ff3a"/>
<ellipse cx="123.7" cy="424.5" rx="3.42" ry="3.42" fill="#ffff00"/>
<ellipse cx="123.7" cy="424.5" rx="3.00" ry="3.00" fill="#ff0000"/>
<ellipse cx="139.4" cy="425.3" rx="6.14" ry="6.14" fill="#8a6cff" fill-opacity="0.55"/>
<ellipse cx="139.4" cy="425.3" rx="5.20" ry="5.20" fill="#1f1fff"/>
<ellipse cx="139.4" cy="425.3" rx="3.74" ry="3.74" fill="#00e4ff"/>
<ellipse cx="139.4" cy="425.3" rx="3.33" ry="3.33" fill="#39ff3a"/>
<ellipse cx="139.4" cy="425.3" rx="2.96" ry="2.96" fill="#ffff00"/>
<ellipse cx="139.4" cy="425.3" rx="2.60" ry="2.60" fill="#ff0000"/>
<ellipse cx="165" cy="395.2" rx="1.8" ry="4" fill="#1f1fff" transform="rotate(15 165 395.2)"/>
<ellipse cx="155.3" cy="422.2" rx="1.5" ry="1.5" fill="#1f1fff"/>
<ellipse cx="173.4" cy="424.3" rx="2" ry="2" fill="#1f1fff"/>
<ellipse cx="173.4" cy="424.3" rx="0.90" ry="0.90" fill="#6a6aff"/>
<ellipse cx="287.2" cy="247" rx="3" ry="8" fill="#1f1fff"/>
<ellipse cx="287.2" cy="247" rx="1.5" ry="6" fill="#3838ff"/>
<ellipse cx="294.2" cy="249.4" rx="1.2" ry="1.2" fill="#1f1fff"/>
<ellipse cx="279.3" cy="270.3" rx="4" ry="4.5" fill="#1f1fff"/>
<ellipse cx="279.3" cy="270.3" rx="2" ry="2.5" fill="#4848ff"/>
<ellipse cx="296.8" cy="274.2" rx="3.5" ry="5" fill="#1f1fff"/>
<ellipse cx="296.8" cy="274.2" rx="1.6" ry="2.5" fill="#4848ff"/>
<ellipse cx="289" cy="284.7" rx="1.3" ry="1.3" fill="#1f1fff"/>
<ellipse cx="323.8" cy="253.3" rx="4.5" ry="4" fill="#2a10ee"/>
<ellipse cx="312.5" cy="268.2" rx="2.5" ry="2.5" fill="#1f1fff"/>
<ellipse cx="312.5" cy="268.2" rx="1.12" ry="1.12" fill="#6a6aff"/>
<ellipse cx="330" cy="272.9" rx="1.4" ry="1.4" fill="#1f1fff"/>
<ellipse cx="357.5" cy="249.4" rx="2.5" ry="2.5" fill="#1f1fff"/>
<ellipse cx="357.5" cy="249.4" rx="1.12" ry="1.12" fill="#6a6aff"/>
<ellipse cx="357.5" cy="243" rx="1" ry="1" fill="#1f1fff"/>
<ellipse cx="347" cy="270.3" rx="3" ry="3" fill="#1f1fff"/>
<ellipse cx="347" cy="270.3" rx="1.35" ry="1.35" fill="#6a6aff"/>
<ellipse cx="365.4" cy="274.2" rx="1.3" ry="2.5" fill="#1f1fff"/>
<ellipse cx="391" cy="252" rx="3.5" ry="5" fill="#3010f0"/>
<ellipse cx="389.7" cy="241" rx="1.3" ry="1.3" fill="#1f1fff"/>
<ellipse cx="380.5" cy="271.6" rx="3" ry="3" fill="#1f1fff"/>
<ellipse cx="380.5" cy="271.6" rx="1.35" ry="1.35" fill="#6a6aff"/>
<ellipse cx="397.5" cy="271.6" rx="3" ry="3" fill="#1f1fff"/>
<ellipse cx="397.5" cy="271.6" rx="1.35" ry="1.35" fill="#6a6aff"/>
<ellipse cx="389.7" cy="286" rx="1.3" ry="3" fill="#1f1fff"/>
<path d="M281,312 C283,307 297,306 299.5,311 C302,318 301,330 298,337 C294,342 285,342 281.5,337 C278.5,330 278.5,318 281,312 Z" fill="#1f1fff"/>
<ellipse cx="289.5" cy="322" rx="8.5" ry="11.5" fill="#3a3aff"/>
<ellipse cx="286" cy="317" rx="4.5" ry="4.5" fill="#00e4ff"/>
<ellipse cx="293.5" cy="325" rx="4.5" ry="5" fill="#00e4ff"/>
<ellipse cx="284.5" cy="328" rx="3.5" ry="4" fill="#00e4ff"/>
<ellipse cx="288" cy="322" rx="3.5" ry="4" fill="#39ff3a"/>
<ellipse cx="295" cy="314" rx="2.5" ry="2.5" fill="#00e4ff"/>
<ellipse cx="290.8" cy="317.2" rx="2.6" ry="2.6" fill="#ffff00"/>
<ellipse cx="290.8" cy="317.2" rx="1.7" ry="1.7" fill="#ff0000"/>
<ellipse cx="289" cy="329" rx="2.8" ry="2.8" fill="#ffff00"/>
<ellipse cx="289" cy="329" rx="1.8" ry="1.8" fill="#ff0000"/>
<ellipse cx="289" cy="351" rx="13" ry="8" fill="#1f1fff"/>
<ellipse cx="289.5" cy="352" rx="4" ry="5" fill="#7a5cff"/>
<ellipse cx="281.2" cy="351.2" rx="8.26" ry="8.85" fill="#8a6cff" fill-opacity="0.55"/>
<ellipse cx="281.2" cy="351.2" rx="7.00" ry="7.50" fill="#1f1fff"/>
<ellipse cx="281.2" cy="351.2" rx="5.04" ry="5.40" fill="#00e4ff"/>
<ellipse cx="281.2" cy="351.2" rx="4.48" ry="4.80" fill="#39ff3a"/>
<ellipse cx="281.2" cy="351.2" rx="3.99" ry="4.27" fill="#ffff00"/>
<ellipse cx="281.2" cy="351.2" rx="3.50" ry="3.75" fill="#ff0000"/>
<ellipse cx="298.2" cy="350" rx="6.49" ry="7.08" fill="#8a6cff" fill-opacity="0.55"/>
<ellipse cx="298.2" cy="350" rx="5.50" ry="6.00" fill="#1f1fff"/>
<ellipse cx="298.2" cy="350" rx="3.96" ry="4.32" fill="#00e4ff"/>
<ellipse cx="298.2" cy="350" rx="3.52" ry="3.84" fill="#39ff3a"/>
<ellipse cx="298.2" cy="350" rx="3.13" ry="3.42" fill="#ffff00"/>
<ellipse cx="298.2" cy="350" rx="2.75" ry="3.00" fill="#ff0000"/>
<ellipse cx="289" cy="363" rx="1.6" ry="4.5" fill="#1f1fff"/>
<ellipse cx="281" cy="362" rx="1.2" ry="3" fill="#1f1fff"/>
<ellipse cx="297.5" cy="361" rx="1.2" ry="3" fill="#1f1fff"/>
<ellipse cx="325.6" cy="308" rx="3.00" ry="3.00" fill="#1f1fff"/>
<ellipse cx="325.6" cy="308" rx="1.65" ry="1.65" fill="#00e4ff"/>
<path d="M312.5,313 C315,309 324,310 328,313 C332,317 331,326 327,331 C322,335 313,334 311.5,328 C310.5,323 310.5,317 312.5,313 Z" fill="#2a1cff"/>
<ellipse cx="318" cy="318" rx="3" ry="2.5" fill="#00e4ff"/>
<ellipse cx="325" cy="322" rx="2.5" ry="2.2" fill="#00e4ff"/>
<ellipse cx="316" cy="326" rx="2.2" ry="2" fill="#00e4ff"/>
<ellipse cx="323" cy="325" rx="3" ry="3" fill="#6a4cff"/>
<ellipse cx="320" cy="330" rx="2" ry="1.6" fill="#8a6cff"/>
<ellipse cx="322" cy="352" rx="11" ry="7" fill="#1f1fff"/>
<ellipse cx="322" cy="354" rx="4" ry="4" fill="#7a5cff"/>
<ellipse cx="312.5" cy="347.3" rx="5.80" ry="6.20" fill="#1f1fff"/>
<ellipse cx="312.5" cy="347.3" rx="3.83" ry="4.09" fill="#00e4ff"/>
<ellipse cx="312.5" cy="347.3" rx="2.67" ry="2.85" fill="#39ff3a"/>
<ellipse cx="332.1" cy="348.6" rx="6.84" ry="7.32" fill="#8a6cff" fill-opacity="0.55"/>
<ellipse cx="332.1" cy="348.6" rx="5.80" ry="6.20" fill="#1f1fff"/>
<ellipse cx="332.1" cy="348.6" rx="4.18" ry="4.46" fill="#00e4ff"/>
<ellipse cx="332.1" cy="348.6" rx="3.71" ry="3.97" fill="#39ff3a"/>
<ellipse cx="332.1" cy="348.6" rx="3.31" ry="3.53" fill="#ffff00"/>
<ellipse cx="332.1" cy="348.6" rx="2.90" ry="3.10" fill="#ff0000"/>
<ellipse cx="322" cy="359" rx="3" ry="5" fill="#3a1cff"/>
<circle cx="358.3" cy="325.9" r="3" fill="#1f1fff"/>
<circle cx="358.3" cy="325.9" r="1.65" fill="#7070ff"/>
<ellipse cx="346.5" cy="351.2" rx="1.5" ry="1.5" fill="#1f1fff"/>
<circle cx="364.8" cy="351.2" r="2.5" fill="#1f1fff"/>
<circle cx="364.8" cy="351.2" r="1.38" fill="#7070ff"/>
<ellipse cx="355.7" cy="359" rx="1.5" ry="1.5" fill="#1f1fff"/>
<ellipse cx="388.4" cy="357.8" rx="1.3" ry="1.3" fill="#1f1fff"/>
<ellipse cx="396" cy="355" rx="1" ry="1" fill="#1f1fff"/>
<path d="M280,392 C282,387 296,386 299.5,391 C302,397 301.5,410 299,416 C295,421 284,421 281,416 C278.5,410 278,398 280,392 Z" fill="#1f1fff"/>
<ellipse cx="289" cy="402" rx="8.5" ry="11" fill="#00e4ff"/>
<ellipse cx="284" cy="398" rx="3" ry="3" fill="#3a3aff"/>
<ellipse cx="295" cy="406" rx="3" ry="3.5" fill="#3a3aff"/>
<ellipse cx="286" cy="404" rx="4.5" ry="4.5" fill="#39ff3a"/>
<ellipse cx="289.8" cy="396" rx="2.8" ry="2.8" fill="#ffff00"/>
<ellipse cx="289.8" cy="396" rx="1.9" ry="1.9" fill="#ff0000"/>
<ellipse cx="287.7" cy="407.8" rx="5.19" ry="5.19" fill="#8a6cff" fill-opacity="0.55"/>
<ellipse cx="287.7" cy="407.8" rx="4.40" ry="4.40" fill="#1f1fff"/>
<ellipse cx="287.7" cy="407.8" rx="3.17" ry="3.17" fill="#00e4ff"/>
<ellipse cx="287.7" cy="407.8" rx="2.82" ry="2.82" fill="#39ff3a"/>
<ellipse cx="287.7" cy="407.8" rx="2.51" ry="2.51" fill="#ffff00"/>
<ellipse cx="287.7" cy="407.8" rx="2.20" ry="2.20" fill="#ff0000"/>
<ellipse cx="288" cy="430" rx="14" ry="9.5" fill="#1f1fff"/>
<ellipse cx="279" cy="430" rx="6" ry="9" fill="#00e4ff"/>
<ellipse cx="277.8" cy="429.5" rx="7.08" ry="10.03" fill="#8a6cff" fill-opacity="0.55"/>
<ellipse cx="277.8" cy="429.5" rx="6.00" ry="8.50" fill="#1f1fff"/>
<ellipse cx="277.8" cy="429.5" rx="4.32" ry="6.12" fill="#00e4ff"/>
<ellipse cx="277.8" cy="429.5" rx="3.84" ry="5.44" fill="#39ff3a"/>
<ellipse cx="277.8" cy="429.5" rx="3.42" ry="4.84" fill="#ffff00"/>
<ellipse cx="277.8" cy="429.5" rx="3.00" ry="4.25" fill="#ff0000"/>
<ellipse cx="296" cy="427.4" rx="5.31" ry="5.31" fill="#8a6cff" fill-opacity="0.55"/>
<ellipse cx="296" cy="427.4" rx="4.50" ry="4.50" fill="#1f1fff"/>
<ellipse cx="296" cy="427.4" rx="3.24" ry="3.24" fill="#00e4ff"/>
<ellipse cx="296" cy="427.4" rx="2.88" ry="2.88" fill="#39ff3a"/>
<ellipse cx="296" cy="427.4" rx="2.56" ry="2.56" fill="#ffff00"/>
<ellipse cx="296" cy="427.4" rx="2.25" ry="2.25" fill="#ff0000"/>
<ellipse cx="296" cy="435.2" rx="4.72" ry="4.72" fill="#8a6cff" fill-opacity="0.55"/>
<ellipse cx="296" cy="435.2" rx="4.00" ry="4.00" fill="#1f1fff"/>
<ellipse cx="296" cy="435.2" rx="2.88" ry="2.88" fill="#00e4ff"/>
<ellipse cx="296" cy="435.2" rx="2.56" ry="2.56" fill="#39ff3a"/>
<ellipse cx="296" cy="435.2" rx="2.28" ry="2.28" fill="#ffff00"/>
<ellipse cx="296" cy="435.2" rx="2.00" ry="2.00" fill="#ff0000"/>
<ellipse cx="288" cy="433" rx="3" ry="4" fill="#3a3aff"/>
<ellipse cx="319" cy="399" rx="8" ry="12" fill="#1f1fff"/>
<ellipse cx="323" cy="387.4" rx="2.60" ry="2.60" fill="#1f1fff"/>
<ellipse cx="323" cy="387.4" rx="1.43" ry="1.43" fill="#00e4ff"/>
<ellipse cx="320.4" cy="396.5" rx="5.90" ry="5.90" fill="#8a6cff" fill-opacity="0.55"/>
<ellipse cx="320.4" cy="396.5" rx="5.00" ry="5.00" fill="#1f1fff"/>
<ellipse cx="320.4" cy="396.5" rx="3.60" ry="3.60" fill="#00e4ff"/>
<ellipse cx="320.4" cy="396.5" rx="3.20" ry="3.20" fill="#39ff3a"/>
<ellipse cx="320.4" cy="396.5" rx="2.85" ry="2.85" fill="#ffff00"/>
<ellipse cx="320.4" cy="396.5" rx="2.50" ry="2.50" fill="#ff0000"/>
<ellipse cx="330.8" cy="409" rx="3.20" ry="3.20" fill="#1f1fff"/>
<ellipse cx="330.8" cy="409" rx="1.76" ry="1.76" fill="#00e4ff"/>
<ellipse cx="316" cy="406" rx="3" ry="3" fill="#3a3aff"/>
<ellipse cx="322.5" cy="428" rx="14" ry="10" fill="#1f1fff"/>
<ellipse cx="315" cy="425" rx="5" ry="4" fill="#00e4ff"/>
<ellipse cx="321" cy="430" rx="4" ry="3" fill="#00e4ff"/>
<ellipse cx="313" cy="432" rx="3" ry="3" fill="#00e4ff"/>
<ellipse cx="331.6" cy="425.3" rx="6.14" ry="6.14" fill="#8a6cff" fill-opacity="0.55"/>
<ellipse cx="331.6" cy="425.3" rx="5.20" ry="5.20" fill="#1f1fff"/>
<ellipse cx="331.6" cy="425.3" rx="3.74" ry="3.74" fill="#00e4ff"/>
<ellipse cx="331.6" cy="425.3" rx="3.33" ry="3.33" fill="#39ff3a"/>
<ellipse cx="331.6" cy="425.3" rx="2.96" ry="2.96" fill="#ffff00"/>
<ellipse cx="331.6" cy="425.3" rx="2.60" ry="2.60" fill="#ff0000"/>
<ellipse cx="324" cy="435" rx="2.2" ry="2" fill="#00e4ff"/>
<ellipse cx="318" cy="437" rx="2" ry="1.5" fill="#3a3aff"/>
</g>
<rect x="89.5" y="204.5" width="46.5" height="14.3" fill="#fff200" stroke="#333" stroke-width="0.8"/>
<text x="112.7" y="216.3" font-size="11.5" text-anchor="middle" font-weight="normal" fill="#111" >IM380</text>
<rect x="316" y="205" width="46.8" height="13.8" fill="#fff200" stroke="#333" stroke-width="0.8"/>
<text x="339.4" y="216.5" font-size="11.5" text-anchor="middle" font-weight="normal" fill="#111" >A20</text>
<text x="22.3" y="228.5" font-size="9.6" text-anchor="middle" font-weight="normal" fill="#1a1a1a" >days after</text>
<text x="22" y="238.8" font-size="9.6" text-anchor="middle" font-weight="normal" fill="#1a1a1a" >allo-HCT</text>
<text x="35.6" y="264" font-size="13.5" text-anchor="middle" font-weight="normal" fill="#1a1a1a" >4</text>
<text x="35.6" y="348.6" font-size="13.5" text-anchor="middle" font-weight="normal" fill="#1a1a1a" >6</text>
<text x="35.6" y="426.5" font-size="13.5" text-anchor="middle" font-weight="normal" fill="#1a1a1a" >8</text>
<text x="64.05" y="461.8" font-size="10" text-anchor="middle" font-weight="normal" fill="#1a1a1a" >hIgG1</text>
<text x="96.64999999999999" y="461.8" font-size="10" text-anchor="middle" font-weight="normal" fill="#1a1a1a" >18D1</text>
<text x="97.14999999999999" y="472.6" font-size="10" text-anchor="middle" font-weight="normal" fill="#1a1a1a" >-dead</text>
<text x="130.55" y="461.8" font-size="10" text-anchor="middle" font-weight="normal" fill="#1a1a1a" >hIgG1</text>
<text x="163.70000000000002" y="461.8" font-size="10" text-anchor="middle" font-weight="normal" fill="#1a1a1a" >18D1</text>
<text x="164.20000000000002" y="472.6" font-size="10" text-anchor="middle" font-weight="normal" fill="#1a1a1a" >-dead</text>
<polyline points="45.50,472.00 45.50,478.00 111.50,478.00 111.50,472.00" fill="none" stroke="#111" stroke-width="1.6"/>
<polyline points="114.00,472.00 114.00,478.00 182.70,478.00 182.70,472.00" fill="none" stroke="#111" stroke-width="1.6"/>
<text x="78.4" y="492" font-size="12.5" text-anchor="middle" font-weight="normal" fill="#1a1a1a" >BM only</text>
<text x="149.6" y="492.3" font-size="12.5" text-anchor="middle" font-weight="normal" fill="#1a1a1a" >BM + T-cells</text>
<text x="248.3" y="228.5" font-size="9.6" text-anchor="middle" font-weight="normal" fill="#1a1a1a" >days after</text>
<text x="248" y="238.8" font-size="9.6" text-anchor="middle" font-weight="normal" fill="#1a1a1a" >allo-HCT</text>
<text x="261.6" y="264" font-size="13.5" text-anchor="middle" font-weight="normal" fill="#1a1a1a" >4</text>
<text x="261.6" y="348.6" font-size="13.5" text-anchor="middle" font-weight="normal" fill="#1a1a1a" >6</text>
<text x="261.6" y="426.5" font-size="13.5" text-anchor="middle" font-weight="normal" fill="#1a1a1a" >8</text>
<text x="289.40000000000003" y="461.8" font-size="10" text-anchor="middle" font-weight="normal" fill="#1a1a1a" >hIgG1</text>
<text x="322.65000000000003" y="461.8" font-size="10" text-anchor="middle" font-weight="normal" fill="#1a1a1a" >18D1</text>
<text x="323.15000000000003" y="472.6" font-size="10" text-anchor="middle" font-weight="normal" fill="#1a1a1a" >-dead</text>
<text x="356.7" y="461.8" font-size="10" text-anchor="middle" font-weight="normal" fill="#1a1a1a" >hIgG1</text>
<text x="390.1" y="461.8" font-size="10" text-anchor="middle" font-weight="normal" fill="#1a1a1a" >18D1</text>
<text x="390.6" y="472.6" font-size="10" text-anchor="middle" font-weight="normal" fill="#1a1a1a" >-dead</text>
<polyline points="271.50,472.00 271.50,478.00 337.50,478.00 337.50,472.00" fill="none" stroke="#111" stroke-width="1.6"/>
<polyline points="340.00,472.00 340.00,478.00 408.70,478.00 408.70,472.00" fill="none" stroke="#111" stroke-width="1.6"/>
<text x="304.4" y="492" font-size="12.5" text-anchor="middle" font-weight="normal" fill="#1a1a1a" >BM only</text>
<text x="375.6" y="492.3" font-size="12.5" text-anchor="middle" font-weight="normal" fill="#1a1a1a" >BM + T-cells</text>
<text x="2.3" y="529.8" font-size="14.5" text-anchor="start" font-weight="bold" fill="#111" >B</text>
<path d="M44.0,672.5 L44.0,540 L243,540 L243,672.5 Z" fill="none" stroke="#111" stroke-width="1.8"/>
<line x1="39.0" y1="540.0" x2="44.0" y2="540.0" stroke="#111" stroke-width="1.6"/>
<text x="37.1" y="544.4" font-size="12" text-anchor="end" font-weight="normal" fill="#1a1a1a" >110</text>
<line x1="39.0" y1="573.125" x2="44.0" y2="573.125" stroke="#111" stroke-width="1.6"/>
<text x="37.1" y="577.525" font-size="12" text-anchor="end" font-weight="normal" fill="#1a1a1a" >100</text>
<line x1="39.0" y1="606.25" x2="44.0" y2="606.25" stroke="#111" stroke-width="1.6"/>
<text x="37.1" y="610.65" font-size="12" text-anchor="end" font-weight="normal" fill="#1a1a1a" >90</text>
<line x1="39.0" y1="639.375" x2="44.0" y2="639.375" stroke="#111" stroke-width="1.6"/>
<text x="37.1" y="643.775" font-size="12" text-anchor="end" font-weight="normal" fill="#1a1a1a" >80</text>
<line x1="39.0" y1="672.5" x2="44.0" y2="672.5" stroke="#111" stroke-width="1.6"/>
<text x="37.1" y="676.9" font-size="12" text-anchor="end" font-weight="normal" fill="#1a1a1a" >70</text>
<line x1="44.3" y1="672.5" x2="44.3" y2="677.0" stroke="#111" stroke-width="1.6"/>
<text x="44.3" y="690.8" font-size="12.5" text-anchor="middle" font-weight="normal" fill="#1a1a1a" >0</text>
<line x1="76.35" y1="672.5" x2="76.35" y2="677.0" stroke="#111" stroke-width="1.6"/>
<text x="76.35" y="690.8" font-size="12.5" text-anchor="middle" font-weight="normal" fill="#1a1a1a" >10</text>
<line x1="108.39999999999999" y1="672.5" x2="108.39999999999999" y2="677.0" stroke="#111" stroke-width="1.6"/>
<text x="108.39999999999999" y="690.8" font-size="12.5" text-anchor="middle" font-weight="normal" fill="#1a1a1a" >20</text>
<line x1="140.45" y1="672.5" x2="140.45" y2="677.0" stroke="#111" stroke-width="1.6"/>
<text x="140.45" y="690.8" font-size="12.5" text-anchor="middle" font-weight="normal" fill="#1a1a1a" >30</text>
<line x1="172.5" y1="672.5" x2="172.5" y2="677.0" stroke="#111" stroke-width="1.6"/>
<text x="172.5" y="690.8" font-size="12.5" text-anchor="middle" font-weight="normal" fill="#1a1a1a" >40</text>
<line x1="204.55" y1="672.5" x2="204.55" y2="677.0" stroke="#111" stroke-width="1.6"/>
<text x="204.55" y="690.8" font-size="12.5" text-anchor="middle" font-weight="normal" fill="#1a1a1a" >50</text>
<line x1="236.60000000000002" y1="672.5" x2="236.60000000000002" y2="677.0" stroke="#111" stroke-width="1.6"/>
<text x="236.60000000000002" y="690.8" font-size="12.5" text-anchor="middle" font-weight="normal" fill="#1a1a1a" >60</text>
<text transform="translate(10.9,602.6) rotate(-90)" font-size="14.2" text-anchor="middle" fill="#1a1a1a">Realtive weight (%)</text>
<text x="142.1" y="708.9" font-size="13.8" text-anchor="middle" font-weight="normal" fill="#1a1a1a" >Days after allo-HCT</text>
<path d="M318.5,671 L318.5,538 L517.6,538 L517.6,671 Z" fill="none" stroke="#111" stroke-width="1.8"/>
<line x1="313.5" y1="550.0" x2="318.5" y2="550.0" stroke="#111" stroke-width="1.6"/>
<text x="312.0" y="554.2" font-size="11.5" text-anchor="end" font-weight="normal" fill="#1a1a1a" >100</text>
<line x1="313.5" y1="610.5" x2="318.5" y2="610.5" stroke="#111" stroke-width="1.6"/>
<text x="312.0" y="614.7" font-size="11.5" text-anchor="end" font-weight="normal" fill="#1a1a1a" >50</text>
<line x1="313.5" y1="671.0" x2="318.5" y2="671.0" stroke="#111" stroke-width="1.6"/>
<text x="312.0" y="675.2" font-size="11.5" text-anchor="end" font-weight="normal" fill="#1a1a1a" >0</text>
<line x1="318.8" y1="671" x2="318.8" y2="675.5" stroke="#111" stroke-width="1.6"/>
<text x="318.8" y="688.5" font-size="12.5" text-anchor="middle" font-weight="normal" fill="#1a1a1a" >0</text>
<line x1="350.92" y1="671" x2="350.92" y2="675.5" stroke="#111" stroke-width="1.6"/>
<text x="350.92" y="688.5" font-size="12.5" text-anchor="middle" font-weight="normal" fill="#1a1a1a" >10</text>
<line x1="383.04" y1="671" x2="383.04" y2="675.5" stroke="#111" stroke-width="1.6"/>
<text x="383.04" y="688.5" font-size="12.5" text-anchor="middle" font-weight="normal" fill="#1a1a1a" >20</text>
<line x1="415.16" y1="671" x2="415.16" y2="675.5" stroke="#111" stroke-width="1.6"/>
<text x="415.16" y="688.5" font-size="12.5" text-anchor="middle" font-weight="normal" fill="#1a1a1a" >30</text>
<line x1="447.28000000000003" y1="671" x2="447.28000000000003" y2="675.5" stroke="#111" stroke-width="1.6"/>
<text x="447.28000000000003" y="688.5" font-size="12.5" text-anchor="middle" font-weight="normal" fill="#1a1a1a" >40</text>
<line x1="479.40000000000003" y1="671" x2="479.40000000000003" y2="675.5" stroke="#111" stroke-width="1.6"/>
<text x="479.40000000000003" y="688.5" font-size="12.5" text-anchor="middle" font-weight="normal" fill="#1a1a1a" >50</text>
<line x1="511.52" y1="671" x2="511.52" y2="675.5" stroke="#111" stroke-width="1.6"/>
<text x="511.52" y="688.5" font-size="12.5" text-anchor="middle" font-weight="normal" fill="#1a1a1a" >60</text>
<text transform="translate(291.3,608.2) rotate(-90)" font-size="14.5" text-anchor="middle" fill="#1a1a1a">Survival (%)</text>
<text x="327.6" y="704.4" font-size="11.2" font-weight="bold" fill="#1a1a1a">Days after luciferase<tspan font-size="7" dy="-4.5">+</tspan><tspan dy="4.5"> T</tspan><tspan font-size="7" dy="3">con</tspan><tspan dy="-3"> infusion</tspan></text>
<g stroke="#1e8a1e" stroke-width="1.3"><line x1="108.72" y1="633.74" x2="108.72" y2="622.15"/><line x1="105.92" y1="622.15" x2="111.52" y2="622.15"/></g>
<g stroke="#1e8a1e" stroke-width="1.3"><line x1="115.13" y1="632.42" x2="115.13" y2="629.11"/><line x1="112.33" y1="629.11" x2="117.93" y2="629.11"/></g>
<g stroke="#1e8a1e" stroke-width="1.3"><line x1="125.07" y1="636.06" x2="125.07" y2="632.75"/><line x1="122.27" y1="632.75" x2="127.87" y2="632.75"/></g>
<g stroke="#1e8a1e" stroke-width="1.3"><line x1="130.83" y1="642.02" x2="130.83" y2="638.71"/><line x1="128.03" y1="638.71" x2="133.63" y2="638.71"/></g>
<g stroke="#1e8a1e" stroke-width="1.3"><line x1="137.57" y1="645.67" x2="137.57" y2="642.36"/><line x1="134.77" y1="642.36" x2="140.37" y2="642.36"/></g>
<polyline points="44.30,573.12 48.15,588.03 53.91,596.31 60.65,600.62 62.57,591.01 66.41,593.00 70.26,587.70 73.14,595.65 79.88,585.05 82.76,590.02 86.61,595.32 92.70,612.21 101.99,634.08 108.72,633.74 115.13,632.42 125.07,636.06 130.83,642.02 137.57,645.67" fill="none" stroke="#1e8a1e" stroke-width="1.5"/>
<circle cx="44.30" cy="573.12" r="2.7" fill="white" stroke="#1e8a1e" stroke-width="1.4"/>
<circle cx="48.15" cy="588.03" r="2.7" fill="white" stroke="#1e8a1e" stroke-width="1.4"/>
<circle cx="53.91" cy="596.31" r="2.7" fill="white" stroke="#1e8a1e" stroke-width="1.4"/>
<circle cx="60.65" cy="600.62" r="2.7" fill="white" stroke="#1e8a1e" stroke-width="1.4"/>
<circle cx="62.57" cy="591.01" r="2.7" fill="white" stroke="#1e8a1e" stroke-width="1.4"/>
<circle cx="66.41" cy="593.00" r="2.7" fill="white" stroke="#1e8a1e" stroke-width="1.4"/>
<circle cx="70.26" cy="587.70" r="2.7" fill="white" stroke="#1e8a1e" stroke-width="1.4"/>
<circle cx="73.14" cy="595.65" r="2.7" fill="white" stroke="#1e8a1e" stroke-width="1.4"/>
<circle cx="79.88" cy="585.05" r="2.7" fill="white" stroke="#1e8a1e" stroke-width="1.4"/>
<circle cx="82.76" cy="590.02" r="2.7" fill="white" stroke="#1e8a1e" stroke-width="1.4"/>
<circle cx="86.61" cy="595.32" r="2.7" fill="white" stroke="#1e8a1e" stroke-width="1.4"/>
<circle cx="92.70" cy="612.21" r="2.7" fill="white" stroke="#1e8a1e" stroke-width="1.4"/>
<circle cx="101.99" cy="634.08" r="2.7" fill="white" stroke="#1e8a1e" stroke-width="1.4"/>
<circle cx="108.72" cy="633.74" r="2.7" fill="white" stroke="#1e8a1e" stroke-width="1.4"/>
<circle cx="115.13" cy="632.42" r="2.7" fill="white" stroke="#1e8a1e" stroke-width="1.4"/>
<circle cx="125.07" cy="636.06" r="2.7" fill="white" stroke="#1e8a1e" stroke-width="1.4"/>
<circle cx="130.83" cy="642.02" r="2.7" fill="white" stroke="#1e8a1e" stroke-width="1.4"/>
<circle cx="137.57" cy="645.67" r="2.7" fill="white" stroke="#1e8a1e" stroke-width="1.4"/>
<g stroke="#111" stroke-width="1.3"><line x1="85.64" y1="624.47" x2="85.64" y2="619.50"/><line x1="82.84" y1="619.50" x2="88.44" y2="619.50"/></g>
<g stroke="#111" stroke-width="1.3"><line x1="92.38" y1="614.20" x2="92.38" y2="609.23"/><line x1="89.58" y1="609.23" x2="95.17" y2="609.23"/></g>
<g stroke="#111" stroke-width="1.3"><line x1="101.99" y1="625.79" x2="101.99" y2="620.83"/><line x1="99.19" y1="620.83" x2="104.79" y2="620.83"/></g>
<g stroke="#111" stroke-width="1.3"><line x1="108.72" y1="626.79" x2="108.72" y2="621.82"/><line x1="105.92" y1="621.82" x2="111.52" y2="621.82"/></g>
<g stroke="#111" stroke-width="1.3"><line x1="115.13" y1="628.44" x2="115.13" y2="623.48"/><line x1="112.33" y1="623.48" x2="117.93" y2="623.48"/></g>
<g stroke="#111" stroke-width="1.3"><line x1="125.07" y1="632.42" x2="125.07" y2="627.45"/><line x1="122.27" y1="627.45" x2="127.87" y2="627.45"/></g>
<g stroke="#111" stroke-width="1.3"><line x1="130.83" y1="635.40" x2="130.83" y2="630.43"/><line x1="128.03" y1="630.43" x2="133.63" y2="630.43"/></g>
<g stroke="#111" stroke-width="1.3"><line x1="137.57" y1="638.05" x2="137.57" y2="633.08"/><line x1="134.77" y1="633.08" x2="140.37" y2="633.08"/></g>
<g stroke="#111" stroke-width="1.3"><line x1="146.86" y1="638.71" x2="146.86" y2="633.74"/><line x1="144.06" y1="633.74" x2="149.66" y2="633.74"/></g>
<g stroke="#111" stroke-width="1.3"><line x1="153.59" y1="645.34" x2="153.59" y2="640.37"/><line x1="150.79" y1="640.37" x2="156.39" y2="640.37"/></g>
<g stroke="#111" stroke-width="1.3"><line x1="160.32" y1="646.00" x2="160.32" y2="641.03"/><line x1="157.52" y1="641.03" x2="163.12" y2="641.03"/></g>
<polyline points="44.30,573.12 48.15,596.31 51.99,612.88 54.88,626.12 61.61,632.75 66.73,639.38 71.22,639.38 74.11,636.06 79.88,629.44 85.64,624.47 92.38,614.20 101.99,625.79 108.72,626.79 115.13,628.44 125.07,632.42 130.83,635.40 137.57,638.05 146.86,638.71 153.59,645.34 160.32,646.00" fill="none" stroke="#111" stroke-width="1.5"/>
<polygon points="41.30,575.73 47.30,575.73 44.30,570.52" fill="white" stroke="#111" stroke-width="1.3" stroke-linejoin="miter"/>
<polygon points="45.15,598.91 51.15,598.91 48.15,593.71" fill="white" stroke="#111" stroke-width="1.3" stroke-linejoin="miter"/>
<polygon points="48.99,615.48 54.99,615.48 51.99,610.27" fill="white" stroke="#111" stroke-width="1.3" stroke-linejoin="miter"/>
<polygon points="51.88,628.73 57.88,628.73 54.88,623.52" fill="white" stroke="#111" stroke-width="1.3" stroke-linejoin="miter"/>
<polygon points="58.61,635.35 64.61,635.35 61.61,630.15" fill="white" stroke="#111" stroke-width="1.3" stroke-linejoin="miter"/>
<polygon points="63.73,641.98 69.73,641.98 66.73,636.77" fill="white" stroke="#111" stroke-width="1.3" stroke-linejoin="miter"/>
<polygon points="68.22,641.98 74.22,641.98 71.22,636.77" fill="white" stroke="#111" stroke-width="1.3" stroke-linejoin="miter"/>
<polygon points="71.11,638.66 77.11,638.66 74.11,633.46" fill="white" stroke="#111" stroke-width="1.3" stroke-linejoin="miter"/>
<polygon points="76.88,632.04 82.88,632.04 79.88,626.84" fill="white" stroke="#111" stroke-width="1.3" stroke-linejoin="miter"/>
<polygon points="82.64,627.07 88.64,627.07 85.64,621.87" fill="white" stroke="#111" stroke-width="1.3" stroke-linejoin="miter"/>
<polygon points="89.38,616.80 95.38,616.80 92.38,611.60" fill="white" stroke="#111" stroke-width="1.3" stroke-linejoin="miter"/>
<polygon points="98.99,628.39 104.99,628.39 101.99,623.19" fill="white" stroke="#111" stroke-width="1.3" stroke-linejoin="miter"/>
<polygon points="105.72,629.39 111.72,629.39 108.72,624.19" fill="white" stroke="#111" stroke-width="1.3" stroke-linejoin="miter"/>
<polygon points="112.13,631.04 118.13,631.04 115.13,625.84" fill="white" stroke="#111" stroke-width="1.3" stroke-linejoin="miter"/>
<polygon points="122.07,635.02 128.07,635.02 125.07,629.82" fill="white" stroke="#111" stroke-width="1.3" stroke-linejoin="miter"/>
<polygon points="127.83,638.00 133.83,638.00 130.83,632.80" fill="white" stroke="#111" stroke-width="1.3" stroke-linejoin="miter"/>
<polygon points="134.57,640.65 140.57,640.65 137.57,635.45" fill="white" stroke="#111" stroke-width="1.3" stroke-linejoin="miter"/>
<polygon points="143.86,641.31 149.86,641.31 146.86,636.11" fill="white" stroke="#111" stroke-width="1.3" stroke-linejoin="miter"/>
<polygon points="150.59,647.94 156.59,647.94 153.59,642.74" fill="white" stroke="#111" stroke-width="1.3" stroke-linejoin="miter"/>
<polygon points="157.32,648.60 163.32,648.60 160.32,643.40" fill="white" stroke="#111" stroke-width="1.3" stroke-linejoin="miter"/>
<g stroke="#e8101c" stroke-width="1.3"><line x1="79.88" y1="626.12" x2="79.88" y2="621.16"/><line x1="77.08" y1="621.16" x2="82.68" y2="621.16"/></g>
<g stroke="#e8101c" stroke-width="1.3"><line x1="85.64" y1="622.81" x2="85.64" y2="617.84"/><line x1="82.84" y1="617.84" x2="88.44" y2="617.84"/></g>
<g stroke="#e8101c" stroke-width="1.3"><line x1="92.38" y1="626.12" x2="92.38" y2="621.16"/><line x1="89.58" y1="621.16" x2="95.17" y2="621.16"/></g>
<g stroke="#e8101c" stroke-width="1.3"><line x1="101.99" y1="626.12" x2="101.99" y2="621.16"/><line x1="99.19" y1="621.16" x2="104.79" y2="621.16"/></g>
<g stroke="#e8101c" stroke-width="1.3"><line x1="108.72" y1="621.16" x2="108.72" y2="616.19"/><line x1="105.92" y1="616.19" x2="111.52" y2="616.19"/></g>
<g stroke="#e8101c" stroke-width="1.3"><line x1="115.13" y1="626.12" x2="115.13" y2="621.16"/><line x1="112.33" y1="621.16" x2="117.93" y2="621.16"/></g>
<g stroke="#e8101c" stroke-width="1.3"><line x1="125.07" y1="629.44" x2="125.07" y2="624.47"/><line x1="122.27" y1="624.47" x2="127.87" y2="624.47"/></g>
<g stroke="#e8101c" stroke-width="1.3"><line x1="131.48" y1="633.08" x2="131.48" y2="628.11"/><line x1="128.68" y1="628.11" x2="134.28" y2="628.11"/></g>
<g stroke="#e8101c" stroke-width="1.3"><line x1="139.17" y1="637.72" x2="139.17" y2="632.75"/><line x1="136.37" y1="632.75" x2="141.97" y2="632.75"/></g>
<g stroke="#e8101c" stroke-width="1.3"><line x1="146.86" y1="642.02" x2="146.86" y2="637.06"/><line x1="144.06" y1="637.06" x2="149.66" y2="637.06"/></g>
<g stroke="#e8101c" stroke-width="1.3"><line x1="153.59" y1="648.65" x2="153.59" y2="643.68"/><line x1="150.79" y1="643.68" x2="156.39" y2="643.68"/></g>
<g stroke="#e8101c" stroke-width="1.3"><line x1="160.32" y1="648.65" x2="160.32" y2="643.68"/><line x1="157.52" y1="643.68" x2="163.12" y2="643.68"/></g>
<polyline points="44.30,573.12 48.15,593.00 51.99,609.56 54.88,636.06 61.61,629.44 66.73,639.38 71.22,637.72 74.11,629.44 79.88,626.12 85.64,622.81 92.38,626.12 101.99,626.12 108.72,621.16 115.13,626.12 125.07,629.44 131.48,633.08 139.17,637.72 146.86,642.02 153.59,648.65 160.32,648.65" fill="none" stroke="#e8101c" stroke-width="1.5"/>
<rect x="41.80" y="570.62" width="5" height="5" fill="white" stroke="#e8101c" stroke-width="1.4"/>
<rect x="45.65" y="590.50" width="5" height="5" fill="white" stroke="#e8101c" stroke-width="1.4"/>
<rect x="49.49" y="607.06" width="5" height="5" fill="white" stroke="#e8101c" stroke-width="1.4"/>
<rect x="52.38" y="633.56" width="5" height="5" fill="white" stroke="#e8101c" stroke-width="1.4"/>
<rect x="59.11" y="626.94" width="5" height="5" fill="white" stroke="#e8101c" stroke-width="1.4"/>
<rect x="64.23" y="636.88" width="5" height="5" fill="white" stroke="#e8101c" stroke-width="1.4"/>
<rect x="68.72" y="635.22" width="5" height="5" fill="white" stroke="#e8101c" stroke-width="1.4"/>
<rect x="71.61" y="626.94" width="5" height="5" fill="white" stroke="#e8101c" stroke-width="1.4"/>
<rect x="77.38" y="623.62" width="5" height="5" fill="white" stroke="#e8101c" stroke-width="1.4"/>
<rect x="83.14" y="620.31" width="5" height="5" fill="white" stroke="#e8101c" stroke-width="1.4"/>
<rect x="89.88" y="623.62" width="5" height="5" fill="white" stroke="#e8101c" stroke-width="1.4"/>
<rect x="99.49" y="623.62" width="5" height="5" fill="white" stroke="#e8101c" stroke-width="1.4"/>
<rect x="106.22" y="618.66" width="5" height="5" fill="white" stroke="#e8101c" stroke-width="1.4"/>
<rect x="112.63" y="623.62" width="5" height="5" fill="white" stroke="#e8101c" stroke-width="1.4"/>
<rect x="122.57" y="626.94" width="5" height="5" fill="white" stroke="#e8101c" stroke-width="1.4"/>
<rect x="128.98" y="630.58" width="5" height="5" fill="white" stroke="#e8101c" stroke-width="1.4"/>
<rect x="136.67" y="635.22" width="5" height="5" fill="white" stroke="#e8101c" stroke-width="1.4"/>
<rect x="144.36" y="639.52" width="5" height="5" fill="white" stroke="#e8101c" stroke-width="1.4"/>
<rect x="151.09" y="646.15" width="5" height="5" fill="white" stroke="#e8101c" stroke-width="1.4"/>
<rect x="157.82" y="646.15" width="5" height="5" fill="white" stroke="#e8101c" stroke-width="1.4"/>
<g stroke="#e8101c" stroke-width="1.3"><line x1="92.38" y1="619.83" x2="92.38" y2="615.86"/><line x1="89.58" y1="615.86" x2="95.17" y2="615.86"/></g>
<g stroke="#e8101c" stroke-width="1.3"><line x1="101.99" y1="620.83" x2="101.99" y2="616.85"/><line x1="99.19" y1="616.85" x2="104.79" y2="616.85"/></g>
<g stroke="#e8101c" stroke-width="1.3"><line x1="108.72" y1="616.85" x2="108.72" y2="612.88"/><line x1="105.92" y1="612.88" x2="111.52" y2="612.88"/></g>
<g stroke="#e8101c" stroke-width="1.3"><line x1="114.49" y1="605.26" x2="114.49" y2="600.29"/><line x1="111.69" y1="600.29" x2="117.29" y2="600.29"/></g>
<g stroke="#e8101c" stroke-width="1.3"><line x1="123.14" y1="598.63" x2="123.14" y2="592.67"/><line x1="120.34" y1="592.67" x2="125.94" y2="592.67"/></g>
<g stroke="#e8101c" stroke-width="1.3"><line x1="129.87" y1="597.64" x2="129.87" y2="591.68"/><line x1="127.07" y1="591.68" x2="132.67" y2="591.68"/></g>
<g stroke="#e8101c" stroke-width="1.3"><line x1="136.92" y1="603.27" x2="136.92" y2="592.01"/><line x1="134.12" y1="592.01" x2="139.72" y2="592.01"/></g>
<g stroke="#e8101c" stroke-width="1.3"><line x1="146.86" y1="591.01" x2="146.86" y2="581.08"/><line x1="144.06" y1="581.08" x2="149.66" y2="581.08"/></g>
<g stroke="#e8101c" stroke-width="1.3"><line x1="152.63" y1="590.68" x2="152.63" y2="570.48"/><line x1="149.83" y1="570.48" x2="155.43" y2="570.48"/></g>
<g stroke="#e8101c" stroke-width="1.3"><line x1="159.04" y1="592.34" x2="159.04" y2="570.48"/><line x1="156.24" y1="570.48" x2="161.84" y2="570.48"/></g>
<g stroke="#e8101c" stroke-width="1.3"><line x1="169.30" y1="586.04" x2="169.30" y2="570.48"/><line x1="166.50" y1="570.48" x2="172.10" y2="570.48"/></g>
<g stroke="#e8101c" stroke-width="1.3"><line x1="175.70" y1="592.34" x2="175.70" y2="570.48"/><line x1="172.90" y1="570.48" x2="178.50" y2="570.48"/></g>
<g stroke="#e8101c" stroke-width="1.3"><line x1="182.44" y1="593.99" x2="182.44" y2="570.48"/><line x1="179.64" y1="570.48" x2="185.24" y2="570.48"/></g>
<g stroke="#e8101c" stroke-width="1.3"><line x1="192.37" y1="597.64" x2="192.37" y2="570.48"/><line x1="189.57" y1="570.48" x2="195.17" y2="570.48"/></g>
<g stroke="#e8101c" stroke-width="1.3"><line x1="197.82" y1="598.63" x2="197.82" y2="570.48"/><line x1="195.02" y1="570.48" x2="200.62" y2="570.48"/></g>
<g stroke="#e8101c" stroke-width="1.3"><line x1="204.55" y1="597.64" x2="204.55" y2="570.48"/><line x1="201.75" y1="570.48" x2="207.35" y2="570.48"/></g>
<g stroke="#e8101c" stroke-width="1.3"><line x1="214.17" y1="599.29" x2="214.17" y2="570.48"/><line x1="211.37" y1="570.48" x2="216.97" y2="570.48"/></g>
<g stroke="#e8101c" stroke-width="1.3"><line x1="220.25" y1="600.95" x2="220.25" y2="570.48"/><line x1="217.45" y1="570.48" x2="223.05" y2="570.48"/></g>
<g stroke="#e8101c" stroke-width="1.3"><line x1="227.63" y1="599.29" x2="227.63" y2="570.48"/><line x1="224.83" y1="570.48" x2="230.43" y2="570.48"/></g>
<g stroke="#e8101c" stroke-width="1.3"><line x1="237.24" y1="597.97" x2="237.24" y2="570.48"/><line x1="234.44" y1="570.48" x2="240.04" y2="570.48"/></g>
<polyline points="44.30,573.12 48.15,593.66 51.99,599.62 53.91,618.84 61.61,620.83 69.30,623.81 70.26,629.44 80.84,620.83 85.64,622.81 92.38,619.83 101.99,620.83 108.72,616.85 114.49,605.26 123.14,598.63 129.87,597.64 136.92,603.27 146.86,591.01 152.63,590.68 159.04,592.34 169.30,586.04 175.70,592.34 182.44,593.99 192.37,597.64 197.82,598.63 204.55,597.64 214.17,599.29 220.25,600.95 227.63,599.29 237.24,597.97" fill="none" stroke="#e8101c" stroke-width="1.5"/>
<rect x="41.20" y="570.02" width="6.2" height="6.2" fill="#e8101c"/>
<rect x="45.05" y="590.56" width="6.2" height="6.2" fill="#e8101c"/>
<rect x="48.89" y="596.52" width="6.2" height="6.2" fill="#e8101c"/>
<rect x="50.81" y="615.74" width="6.2" height="6.2" fill="#e8101c"/>
<rect x="58.51" y="617.73" width="6.2" height="6.2" fill="#e8101c"/>
<rect x="66.20" y="620.71" width="6.2" height="6.2" fill="#e8101c"/>
<rect x="67.16" y="626.34" width="6.2" height="6.2" fill="#e8101c"/>
<rect x="77.74" y="617.73" width="6.2" height="6.2" fill="#e8101c"/>
<rect x="82.54" y="619.71" width="6.2" height="6.2" fill="#e8101c"/>
<rect x="89.28" y="616.73" width="6.2" height="6.2" fill="#e8101c"/>
<rect x="98.89" y="617.73" width="6.2" height="6.2" fill="#e8101c"/>
<rect x="105.62" y="613.75" width="6.2" height="6.2" fill="#e8101c"/>
<rect x="111.39" y="602.16" width="6.2" height="6.2" fill="#e8101c"/>
<rect x="120.04" y="595.53" width="6.2" height="6.2" fill="#e8101c"/>
<rect x="126.77" y="594.54" width="6.2" height="6.2" fill="#e8101c"/>
<rect x="133.82" y="600.17" width="6.2" height="6.2" fill="#e8101c"/>
<rect x="143.76" y="587.91" width="6.2" height="6.2" fill="#e8101c"/>
<rect x="149.53" y="587.58" width="6.2" height="6.2" fill="#e8101c"/>
<rect x="155.94" y="589.24" width="6.2" height="6.2" fill="#e8101c"/>
<rect x="166.20" y="582.94" width="6.2" height="6.2" fill="#e8101c"/>
<rect x="172.60" y="589.24" width="6.2" height="6.2" fill="#e8101c"/>
<rect x="179.34" y="590.89" width="6.2" height="6.2" fill="#e8101c"/>
<rect x="189.27" y="594.54" width="6.2" height="6.2" fill="#e8101c"/>
<rect x="194.72" y="595.53" width="6.2" height="6.2" fill="#e8101c"/>
<rect x="201.45" y="594.54" width="6.2" height="6.2" fill="#e8101c"/>
<rect x="211.07" y="596.19" width="6.2" height="6.2" fill="#e8101c"/>
<rect x="217.15" y="597.85" width="6.2" height="6.2" fill="#e8101c"/>
<rect x="224.53" y="596.19" width="6.2" height="6.2" fill="#e8101c"/>
<rect x="234.14" y="594.87" width="6.2" height="6.2" fill="#e8101c"/>
<g stroke="#111" stroke-width="1.3"><line x1="48.15" y1="597.64" x2="48.15" y2="592.34"/><line x1="45.35" y1="592.34" x2="50.95" y2="592.34"/></g>
<g stroke="#111" stroke-width="1.3"><line x1="51.99" y1="605.26" x2="51.99" y2="599.96"/><line x1="49.19" y1="599.96" x2="54.79" y2="599.96"/></g>
<g stroke="#111" stroke-width="1.3"><line x1="53.91" y1="622.81" x2="53.91" y2="617.51"/><line x1="51.12" y1="617.51" x2="56.71" y2="617.51"/></g>
<g stroke="#111" stroke-width="1.3"><line x1="58.72" y1="632.42" x2="58.72" y2="627.12"/><line x1="55.92" y1="627.12" x2="61.52" y2="627.12"/></g>
<g stroke="#111" stroke-width="1.3"><line x1="61.61" y1="640.04" x2="61.61" y2="634.74"/><line x1="58.81" y1="634.74" x2="64.41" y2="634.74"/></g>
<g stroke="#111" stroke-width="1.3"><line x1="66.41" y1="648.65" x2="66.41" y2="643.35"/><line x1="63.61" y1="643.35" x2="69.21" y2="643.35"/></g>
<g stroke="#111" stroke-width="1.3"><line x1="71.22" y1="645.67" x2="71.22" y2="640.37"/><line x1="68.42" y1="640.37" x2="74.02" y2="640.37"/></g>
<g stroke="#111" stroke-width="1.3"><line x1="74.11" y1="643.02" x2="74.11" y2="637.72"/><line x1="71.31" y1="637.72" x2="76.91" y2="637.72"/></g>
<g stroke="#111" stroke-width="1.3"><line x1="79.88" y1="632.42" x2="79.88" y2="627.12"/><line x1="77.08" y1="627.12" x2="82.68" y2="627.12"/></g>
<g stroke="#111" stroke-width="1.3"><line x1="85.64" y1="635.40" x2="85.64" y2="630.10"/><line x1="82.84" y1="630.10" x2="88.44" y2="630.10"/></g>
<g stroke="#111" stroke-width="1.3"><line x1="92.38" y1="628.44" x2="92.38" y2="623.14"/><line x1="89.58" y1="623.14" x2="95.17" y2="623.14"/></g>
<g stroke="#111" stroke-width="1.3"><line x1="101.99" y1="622.81" x2="101.99" y2="617.51"/><line x1="99.19" y1="617.51" x2="104.79" y2="617.51"/></g>
<g stroke="#111" stroke-width="1.3"><line x1="108.72" y1="618.84" x2="108.72" y2="613.54"/><line x1="105.92" y1="613.54" x2="111.52" y2="613.54"/></g>
<g stroke="#111" stroke-width="1.3"><line x1="115.13" y1="611.22" x2="115.13" y2="605.92"/><line x1="112.33" y1="605.92" x2="117.93" y2="605.92"/></g>
<g stroke="#111" stroke-width="1.3"><line x1="125.07" y1="612.21" x2="125.07" y2="606.91"/><line x1="122.27" y1="606.91" x2="127.87" y2="606.91"/></g>
<g stroke="#111" stroke-width="1.3"><line x1="130.83" y1="612.21" x2="130.83" y2="606.91"/><line x1="128.03" y1="606.91" x2="133.63" y2="606.91"/></g>
<g stroke="#111" stroke-width="1.3"><line x1="137.57" y1="610.23" x2="137.57" y2="604.93"/><line x1="134.77" y1="604.93" x2="140.37" y2="604.93"/></g>
<g stroke="#111" stroke-width="1.3"><line x1="146.86" y1="608.90" x2="146.86" y2="599.29"/><line x1="144.06" y1="599.29" x2="149.66" y2="599.29"/></g>
<g stroke="#111" stroke-width="1.3"><line x1="152.63" y1="616.52" x2="152.63" y2="606.91"/><line x1="149.83" y1="606.91" x2="155.43" y2="606.91"/></g>
<g stroke="#111" stroke-width="1.3"><line x1="159.04" y1="623.14" x2="159.04" y2="613.54"/><line x1="156.24" y1="613.54" x2="161.84" y2="613.54"/></g>
<g stroke="#111" stroke-width="1.3"><line x1="169.30" y1="628.77" x2="169.30" y2="619.17"/><line x1="166.50" y1="619.17" x2="172.10" y2="619.17"/></g>
<g stroke="#111" stroke-width="1.3"><line x1="175.70" y1="632.75" x2="175.70" y2="623.14"/><line x1="172.90" y1="623.14" x2="178.50" y2="623.14"/></g>
<g stroke="#111" stroke-width="1.3"><line x1="182.44" y1="631.42" x2="182.44" y2="621.82"/><line x1="179.64" y1="621.82" x2="185.24" y2="621.82"/></g>
<g stroke="#111" stroke-width="1.3"><line x1="191.41" y1="633.41" x2="191.41" y2="623.81"/><line x1="188.61" y1="623.81" x2="194.21" y2="623.81"/></g>
<g stroke="#111" stroke-width="1.3"><line x1="197.82" y1="636.39" x2="197.82" y2="626.79"/><line x1="195.02" y1="626.79" x2="200.62" y2="626.79"/></g>
<g stroke="#111" stroke-width="1.3"><line x1="204.55" y1="630.43" x2="204.55" y2="620.82"/><line x1="201.75" y1="620.82" x2="207.35" y2="620.82"/></g>
<g stroke="#111" stroke-width="1.3"><line x1="214.17" y1="633.08" x2="214.17" y2="623.47"/><line x1="211.37" y1="623.47" x2="216.97" y2="623.47"/></g>
<g stroke="#111" stroke-width="1.3"><line x1="220.25" y1="639.71" x2="220.25" y2="630.10"/><line x1="217.45" y1="630.10" x2="223.05" y2="630.10"/></g>
<g stroke="#111" stroke-width="1.3"><line x1="227.63" y1="633.74" x2="227.63" y2="624.14"/><line x1="224.83" y1="624.14" x2="230.43" y2="624.14"/></g>
<g stroke="#111" stroke-width="1.3"><line x1="237.24" y1="626.12" x2="237.24" y2="616.52"/><line x1="234.44" y1="616.52" x2="240.04" y2="616.52"/></g>
<polyline points="44.30,573.12 48.15,597.64 51.99,605.26 53.91,622.81 58.72,632.42 61.61,640.04 66.41,648.65 71.22,645.67 74.11,643.02 79.88,632.42 85.64,635.40 92.38,628.44 101.99,622.81 108.72,618.84 115.13,611.22 125.07,612.21 130.83,612.21 137.57,610.23 146.86,608.90 152.63,616.52 159.04,623.14 169.30,628.77 175.70,632.75 182.44,631.42 191.41,633.41 197.82,636.39 204.55,630.43 214.17,633.08 220.25,639.71 227.63,633.74 237.24,626.12" fill="none" stroke="#111" stroke-width="1.5"/>
<rect x="41.20" y="570.02" width="6.2" height="6.2" fill="#111"/>
<rect x="45.05" y="594.54" width="6.2" height="6.2" fill="#111"/>
<rect x="48.89" y="602.16" width="6.2" height="6.2" fill="#111"/>
<rect x="50.81" y="619.71" width="6.2" height="6.2" fill="#111"/>
<rect x="55.62" y="629.32" width="6.2" height="6.2" fill="#111"/>
<rect x="58.51" y="636.94" width="6.2" height="6.2" fill="#111"/>
<rect x="63.31" y="645.55" width="6.2" height="6.2" fill="#111"/>
<rect x="68.12" y="642.57" width="6.2" height="6.2" fill="#111"/>
<rect x="71.01" y="639.92" width="6.2" height="6.2" fill="#111"/>
<rect x="76.78" y="629.32" width="6.2" height="6.2" fill="#111"/>
<rect x="82.54" y="632.30" width="6.2" height="6.2" fill="#111"/>
<rect x="89.28" y="625.34" width="6.2" height="6.2" fill="#111"/>
<rect x="98.89" y="619.71" width="6.2" height="6.2" fill="#111"/>
<rect x="105.62" y="615.74" width="6.2" height="6.2" fill="#111"/>
<rect x="112.03" y="608.12" width="6.2" height="6.2" fill="#111"/>
<rect x="121.97" y="609.11" width="6.2" height="6.2" fill="#111"/>
<rect x="127.73" y="609.11" width="6.2" height="6.2" fill="#111"/>
<rect x="134.47" y="607.12" width="6.2" height="6.2" fill="#111"/>
<rect x="143.76" y="605.80" width="6.2" height="6.2" fill="#111"/>
<rect x="149.53" y="613.42" width="6.2" height="6.2" fill="#111"/>
<rect x="155.94" y="620.04" width="6.2" height="6.2" fill="#111"/>
<rect x="166.20" y="625.67" width="6.2" height="6.2" fill="#111"/>
<rect x="172.60" y="629.65" width="6.2" height="6.2" fill="#111"/>
<rect x="179.34" y="628.32" width="6.2" height="6.2" fill="#111"/>
<rect x="188.31" y="630.31" width="6.2" height="6.2" fill="#111"/>
<rect x="194.72" y="633.29" width="6.2" height="6.2" fill="#111"/>
<rect x="201.45" y="627.33" width="6.2" height="6.2" fill="#111"/>
<rect x="211.07" y="629.98" width="6.2" height="6.2" fill="#111"/>
<rect x="217.15" y="636.61" width="6.2" height="6.2" fill="#111"/>
<rect x="224.53" y="630.64" width="6.2" height="6.2" fill="#111"/>
<rect x="234.14" y="623.02" width="6.2" height="6.2" fill="#111"/>
<g stroke="#1e8a1e" stroke-width="1.3"><line x1="54.88" y1="610.89" x2="54.88" y2="606.91"/><line x1="52.08" y1="606.91" x2="57.68" y2="606.91"/></g>
<g stroke="#1e8a1e" stroke-width="1.3"><line x1="58.72" y1="609.23" x2="58.72" y2="605.26"/><line x1="55.92" y1="605.26" x2="61.52" y2="605.26"/></g>
<g stroke="#1e8a1e" stroke-width="1.3"><line x1="61.61" y1="606.25" x2="61.61" y2="602.27"/><line x1="58.81" y1="602.27" x2="64.41" y2="602.27"/></g>
<g stroke="#1e8a1e" stroke-width="1.3"><line x1="66.41" y1="604.26" x2="66.41" y2="600.29"/><line x1="63.61" y1="600.29" x2="69.21" y2="600.29"/></g>
<g stroke="#1e8a1e" stroke-width="1.3"><line x1="71.22" y1="604.26" x2="71.22" y2="600.29"/><line x1="68.42" y1="600.29" x2="74.02" y2="600.29"/></g>
<g stroke="#1e8a1e" stroke-width="1.3"><line x1="74.11" y1="607.24" x2="74.11" y2="603.27"/><line x1="71.31" y1="603.27" x2="76.91" y2="603.27"/></g>
<g stroke="#1e8a1e" stroke-width="1.3"><line x1="76.99" y1="601.61" x2="76.99" y2="597.64"/><line x1="74.19" y1="597.64" x2="79.79" y2="597.64"/></g>
<g stroke="#1e8a1e" stroke-width="1.3"><line x1="80.84" y1="595.65" x2="80.84" y2="591.67"/><line x1="78.04" y1="591.67" x2="83.64" y2="591.67"/></g>
<g stroke="#1e8a1e" stroke-width="1.3"><line x1="83.72" y1="589.02" x2="83.72" y2="585.05"/><line x1="80.92" y1="585.05" x2="86.52" y2="585.05"/></g>
<g stroke="#1e8a1e" stroke-width="1.3"><line x1="86.61" y1="581.08" x2="86.61" y2="577.10"/><line x1="83.81" y1="577.10" x2="89.41" y2="577.10"/></g>
<g stroke="#1e8a1e" stroke-width="1.3"><line x1="92.38" y1="573.46" x2="92.38" y2="569.48"/><line x1="89.58" y1="569.48" x2="95.17" y2="569.48"/></g>
<g stroke="#1e8a1e" stroke-width="1.3"><line x1="101.99" y1="572.46" x2="101.99" y2="568.49"/><line x1="99.19" y1="568.49" x2="104.79" y2="568.49"/></g>
<g stroke="#1e8a1e" stroke-width="1.3"><line x1="108.72" y1="559.88" x2="108.72" y2="555.90"/><line x1="105.92" y1="555.90" x2="111.52" y2="555.90"/></g>
<g stroke="#1e8a1e" stroke-width="1.3"><line x1="115.13" y1="567.83" x2="115.13" y2="563.85"/><line x1="112.33" y1="563.85" x2="117.93" y2="563.85"/></g>
<g stroke="#1e8a1e" stroke-width="1.3"><line x1="124.75" y1="572.46" x2="124.75" y2="568.49"/><line x1="121.95" y1="568.49" x2="127.55" y2="568.49"/></g>
<g stroke="#1e8a1e" stroke-width="1.3"><line x1="130.83" y1="561.86" x2="130.83" y2="557.89"/><line x1="128.03" y1="557.89" x2="133.63" y2="557.89"/></g>
<g stroke="#1e8a1e" stroke-width="1.3"><line x1="137.25" y1="556.89" x2="137.25" y2="552.92"/><line x1="134.44" y1="552.92" x2="140.05" y2="552.92"/></g>
<g stroke="#1e8a1e" stroke-width="1.3"><line x1="145.90" y1="556.89" x2="145.90" y2="552.92"/><line x1="143.10" y1="552.92" x2="148.70" y2="552.92"/></g>
<g stroke="#1e8a1e" stroke-width="1.3"><line x1="152.63" y1="561.53" x2="152.63" y2="557.56"/><line x1="149.83" y1="557.56" x2="155.43" y2="557.56"/></g>
<g stroke="#1e8a1e" stroke-width="1.3"><line x1="159.04" y1="559.88" x2="159.04" y2="555.90"/><line x1="156.24" y1="555.90" x2="161.84" y2="555.90"/></g>
<g stroke="#1e8a1e" stroke-width="1.3"><line x1="169.30" y1="558.55" x2="169.30" y2="554.57"/><line x1="166.50" y1="554.57" x2="172.10" y2="554.57"/></g>
<g stroke="#1e8a1e" stroke-width="1.3"><line x1="175.70" y1="555.57" x2="175.70" y2="551.59"/><line x1="172.90" y1="551.59" x2="178.50" y2="551.59"/></g>
<g stroke="#1e8a1e" stroke-width="1.3"><line x1="182.44" y1="555.90" x2="182.44" y2="551.92"/><line x1="179.64" y1="551.92" x2="185.24" y2="551.92"/></g>
<g stroke="#1e8a1e" stroke-width="1.3"><line x1="191.41" y1="559.21" x2="191.41" y2="555.24"/><line x1="188.61" y1="555.24" x2="194.21" y2="555.24"/></g>
<g stroke="#1e8a1e" stroke-width="1.3"><line x1="197.82" y1="563.19" x2="197.82" y2="559.21"/><line x1="195.02" y1="559.21" x2="200.62" y2="559.21"/></g>
<g stroke="#1e8a1e" stroke-width="1.3"><line x1="204.55" y1="557.56" x2="204.55" y2="553.58"/><line x1="201.75" y1="553.58" x2="207.35" y2="553.58"/></g>
<g stroke="#1e8a1e" stroke-width="1.3"><line x1="214.17" y1="555.90" x2="214.17" y2="551.92"/><line x1="211.37" y1="551.92" x2="216.97" y2="551.92"/></g>
<g stroke="#1e8a1e" stroke-width="1.3"><line x1="220.25" y1="558.55" x2="220.25" y2="554.57"/><line x1="217.45" y1="554.57" x2="223.05" y2="554.57"/></g>
<g stroke="#1e8a1e" stroke-width="1.3"><line x1="227.63" y1="551.92" x2="227.63" y2="547.95"/><line x1="224.83" y1="547.95" x2="230.43" y2="547.95"/></g>
<g stroke="#1e8a1e" stroke-width="1.3"><line x1="237.24" y1="547.29" x2="237.24" y2="543.31"/><line x1="234.44" y1="543.31" x2="240.04" y2="543.31"/></g>
<polyline points="44.30,573.12 54.88,610.89 58.72,609.23 61.61,606.25 66.41,604.26 71.22,604.26 74.11,607.24 76.99,601.61 80.84,595.65 83.72,589.02 86.61,581.08 92.38,573.46 101.99,572.46 108.72,559.88 115.13,567.83 124.75,572.46 130.83,561.86 137.25,556.89 145.90,556.89 152.63,561.53 159.04,559.88 169.30,558.55 175.70,555.57 182.44,555.90 191.41,559.21 197.82,563.19 204.55,557.56 214.17,555.90 220.25,558.55 227.63,551.92 237.24,547.29" fill="none" stroke="#1e8a1e" stroke-width="1.5"/>
<circle cx="44.30" cy="573.12" r="3.3" fill="#1e8a1e"/>
<circle cx="54.88" cy="610.89" r="3.3" fill="#1e8a1e"/>
<circle cx="58.72" cy="609.23" r="3.3" fill="#1e8a1e"/>
<circle cx="61.61" cy="606.25" r="3.3" fill="#1e8a1e"/>
<circle cx="66.41" cy="604.26" r="3.3" fill="#1e8a1e"/>
<circle cx="71.22" cy="604.26" r="3.3" fill="#1e8a1e"/>
<circle cx="74.11" cy="607.24" r="3.3" fill="#1e8a1e"/>
<circle cx="76.99" cy="601.61" r="3.3" fill="#1e8a1e"/>
<circle cx="80.84" cy="595.65" r="3.3" fill="#1e8a1e"/>
<circle cx="83.72" cy="589.02" r="3.3" fill="#1e8a1e"/>
<circle cx="86.61" cy="581.08" r="3.3" fill="#1e8a1e"/>
<circle cx="92.38" cy="573.46" r="3.3" fill="#1e8a1e"/>
<circle cx="101.99" cy="572.46" r="3.3" fill="#1e8a1e"/>
<circle cx="108.72" cy="559.88" r="3.3" fill="#1e8a1e"/>
<circle cx="115.13" cy="567.83" r="3.3" fill="#1e8a1e"/>
<circle cx="124.75" cy="572.46" r="3.3" fill="#1e8a1e"/>
<circle cx="130.83" cy="561.86" r="3.3" fill="#1e8a1e"/>
<circle cx="137.25" cy="556.89" r="3.3" fill="#1e8a1e"/>
<circle cx="145.90" cy="556.89" r="3.3" fill="#1e8a1e"/>
<circle cx="152.63" cy="561.53" r="3.3" fill="#1e8a1e"/>
<circle cx="159.04" cy="559.88" r="3.3" fill="#1e8a1e"/>
<circle cx="169.30" cy="558.55" r="3.3" fill="#1e8a1e"/>
<circle cx="175.70" cy="555.57" r="3.3" fill="#1e8a1e"/>
<circle cx="182.44" cy="555.90" r="3.3" fill="#1e8a1e"/>
<circle cx="191.41" cy="559.21" r="3.3" fill="#1e8a1e"/>
<circle cx="197.82" cy="563.19" r="3.3" fill="#1e8a1e"/>
<circle cx="204.55" cy="557.56" r="3.3" fill="#1e8a1e"/>
<circle cx="214.17" cy="555.90" r="3.3" fill="#1e8a1e"/>
<circle cx="220.25" cy="558.55" r="3.3" fill="#1e8a1e"/>
<circle cx="227.63" cy="551.92" r="3.3" fill="#1e8a1e"/>
<circle cx="237.24" cy="547.29" r="3.3" fill="#1e8a1e"/>
<rect x="41.00" y="569.83" width="6.6" height="6.6" fill="#111"/>
<line x1="127.5" y1="656.3" x2="163.7" y2="656.3" stroke="#555" stroke-width="1"/>
<text x="128.7" y="668.5" font-size="10.5" text-anchor="middle" font-weight="bold" fill="#1a1a1a" >*</text>
<text x="142" y="666.5" font-size="10.5" text-anchor="middle" font-weight="bold" fill="#1a1a1a" >–</text>
<text x="157.5" y="668.5" font-size="10.5" text-anchor="middle" font-weight="bold" fill="#1a1a1a" >**</text>
<polyline points="318.80,550.00 511.52,550.00 511.52,550.00" fill="none" stroke="#1e8a1e" stroke-width="1.7"/>
<polyline points="318.80,550.00 376.62,550.00 376.62,598.40 389.46,598.40 389.46,622.60 408.74,622.60 408.74,646.80 415.16,646.80 415.16,671.00" fill="none" stroke="#1e8a1e" stroke-width="1.7"/>
<polyline points="318.80,550.00 427.69,550.00 427.69,574.20 434.43,574.20 434.43,598.40 456.92,598.40 456.92,622.60 472.98,622.60 472.98,646.80 511.52,646.80 511.52,646.80" fill="none" stroke="#e8101c" stroke-width="1.7"/>
<polyline points="318.80,550.00 405.52,550.00 405.52,574.20 410.98,574.20 410.98,598.40 421.58,598.40 421.58,622.60 434.43,622.60 434.43,671.00" fill="none" stroke="#111" stroke-width="1.7"/>
<polyline points="318.80,550.00 405.52,550.00 405.52,574.20 450.49,574.20 450.49,598.40 511.52,598.40 511.52,598.40" fill="none" stroke="#111" stroke-width="1.7"/>
<polyline points="318.80,550.00 389.46,550.00 389.46,574.20 405.52,574.20 405.52,598.40 421.58,598.40 421.58,622.60 434.43,622.60 434.43,646.80 440.86,646.80 440.86,671.00" fill="none" stroke="#111" stroke-width="1.7"/>
<circle cx="511.52" cy="550.00" r="3.2" fill="#1e8a1e"/>
<circle cx="376.62" cy="598.40" r="2.7" fill="white" stroke="#1e8a1e" stroke-width="1.4"/>
<circle cx="389.46" cy="622.60" r="2.7" fill="white" stroke="#1e8a1e" stroke-width="1.4"/>
<circle cx="408.74" cy="646.80" r="2.7" fill="white" stroke="#1e8a1e" stroke-width="1.4"/>
<circle cx="415.16" cy="671.00" r="2.7" fill="white" stroke="#1e8a1e" stroke-width="1.4"/>
<rect x="424.69" y="571.20" width="6" height="6" fill="#e8101c"/>
<rect x="431.43" y="595.40" width="6" height="6" fill="#e8101c"/>
<rect x="453.92" y="619.60" width="6" height="6" fill="#e8101c"/>
<rect x="469.98" y="643.80" width="6" height="6" fill="#e8101c"/>
<rect x="508.52" y="643.80" width="6" height="6" fill="#e8101c"/>
<rect x="402.52" y="571.20" width="6" height="6" fill="#e8101c"/>
<rect x="418.58" y="619.60" width="6" height="6" fill="#e8101c"/>
<rect x="408.48" y="595.90" width="5" height="5" fill="white" stroke="#e8101c" stroke-width="1.4"/>
<rect x="431.93" y="668.50" width="5" height="5" fill="white" stroke="#e8101c" stroke-width="1.4"/>
<polygon points="401.80,577.43 409.25,577.43 405.52,570.97" fill="#111"/>
<polygon points="446.77,601.63 454.22,601.63 450.49,595.17" fill="#111"/>
<polygon points="507.79,601.63 515.25,601.63 511.52,595.17" fill="#111"/>
<polygon points="386.01,577.19 392.91,577.19 389.46,571.21" fill="white" stroke="#111" stroke-width="1.3" stroke-linejoin="miter"/>
<polygon points="402.07,601.39 408.97,601.39 405.52,595.41" fill="white" stroke="#111" stroke-width="1.3" stroke-linejoin="miter"/>
<polygon points="418.13,625.59 425.03,625.59 421.58,619.61" fill="white" stroke="#111" stroke-width="1.3" stroke-linejoin="miter"/>
<polygon points="430.98,649.79 437.88,649.79 434.43,643.81" fill="white" stroke="#111" stroke-width="1.3" stroke-linejoin="miter"/>
<polygon points="437.41,673.99 444.31,673.99 440.86,668.01" fill="white" stroke="#111" stroke-width="1.3" stroke-linejoin="miter"/>
<text x="495.6" y="592.6" font-size="11.5" text-anchor="middle" font-weight="normal" fill="#1a1a1a" >p &lt; 0.05</text>
<text x="495.6" y="639.4" font-size="11.5" text-anchor="middle" font-weight="normal" fill="#1a1a1a" >p &lt; 0.05</text>
<circle cx="12.1" cy="730.3" r="2.8" fill="white" stroke="#1e8a1e" stroke-width="1.6"/>
<circle cx="12.1" cy="744.9" r="3.5" fill="#1e8a1e"/>
<text x="27.6" y="733.1" font-size="11" text-anchor="start" font-weight="normal" fill="#1a1a1a" >irradiation control</text>
<text x="27.6" y="748.4" font-size="11" text-anchor="start" font-weight="normal" fill="#1a1a1a" >BM control</text>
<rect x="153.1" y="727.3" width="5.8" height="5.8" fill="white" stroke="#e8101c" stroke-width="1.6"/>
<rect x="152.5" y="741.5" width="7" height="7" fill="#e8101c"/>
<text x="171" y="733.1" font-size="11" text-anchor="start" font-weight="normal" fill="#1a1a1a" >GVHD IM380 hIgG</text>
<text x="171" y="748.4" font-size="11" text-anchor="start" font-weight="normal" fill="#1a1a1a" >GVHD IM380 Fn14</text>
<polygon points="297.25,732.93 303.55,732.93 300.40,727.47" fill="white" stroke="#111" stroke-width="1.7" stroke-linejoin="miter"/>
<polygon points="296.19,748.65 304.61,748.65 300.40,741.35" fill="#111"/>
<text x="315.5" y="733.1" font-size="11" text-anchor="start" font-weight="normal" fill="#1a1a1a" >GVHD A20 hIgG</text>
<text x="315.5" y="748.4" font-size="11" text-anchor="start" font-weight="normal" fill="#1a1a1a" >GVHD A20 Fn14</text>
</svg>
</body></html>
